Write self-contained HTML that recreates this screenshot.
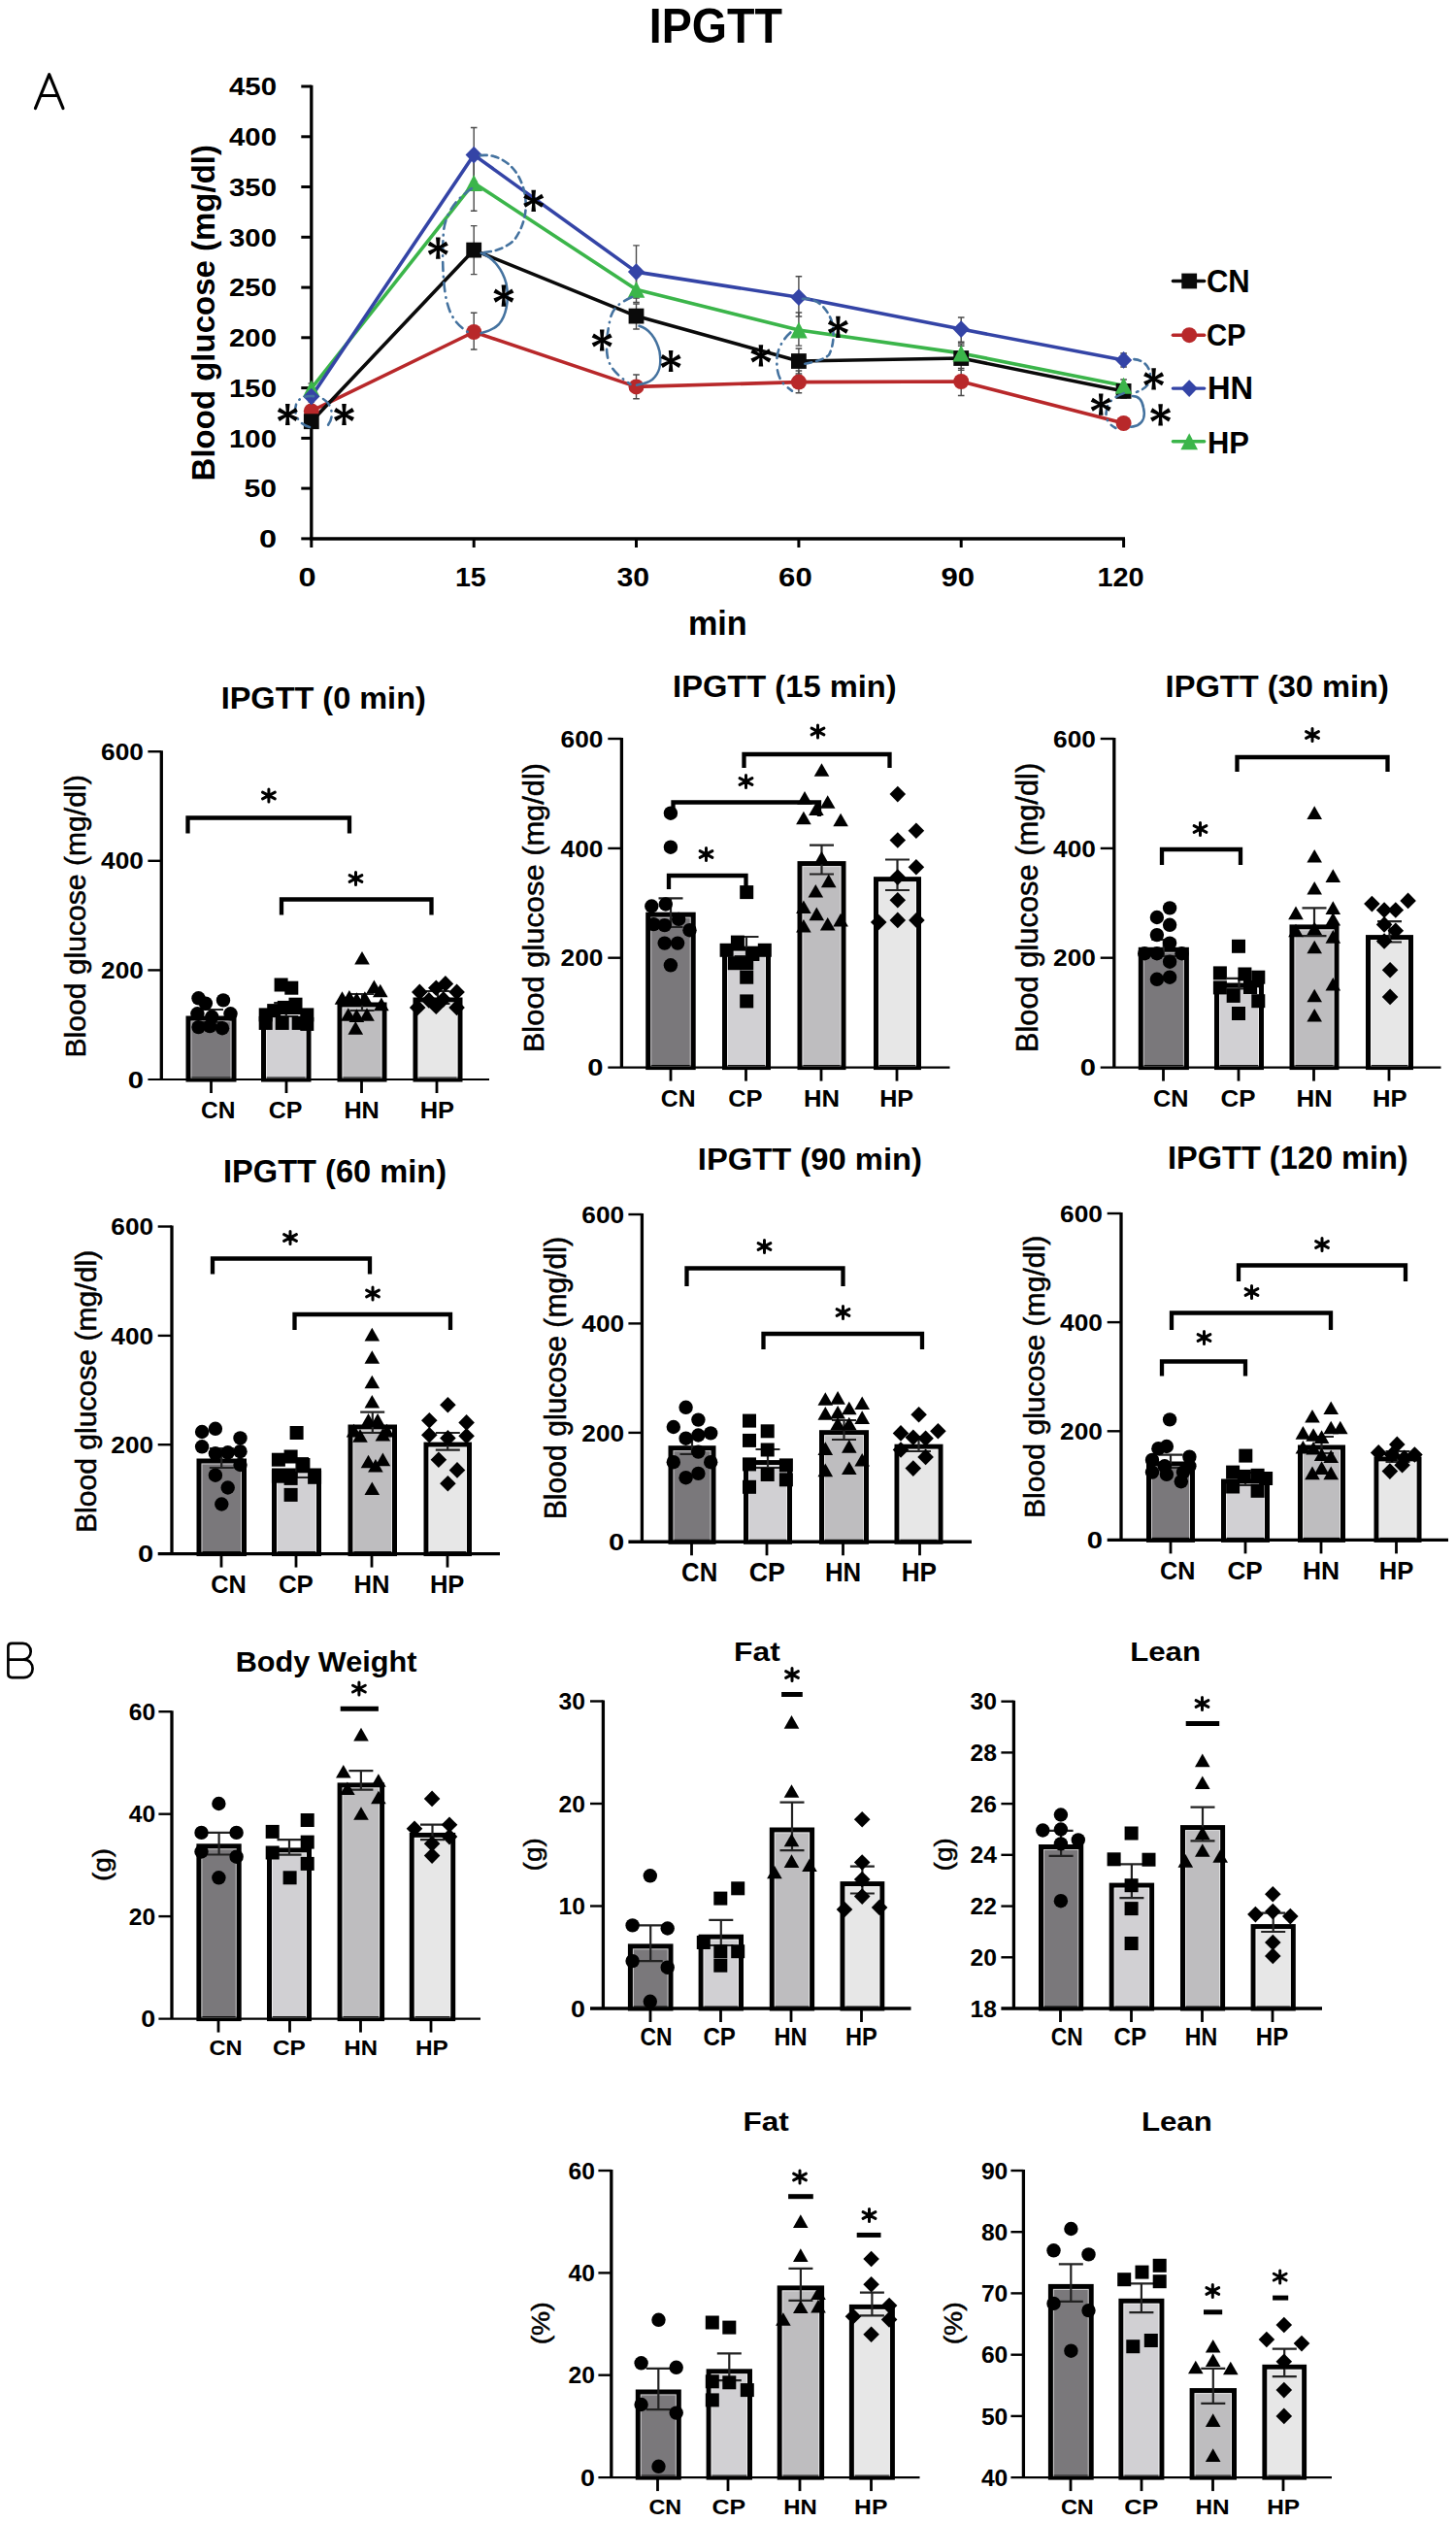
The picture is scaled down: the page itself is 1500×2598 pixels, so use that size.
<!DOCTYPE html>
<html><head><meta charset="utf-8"><title>IPGTT</title>
<style>html,body{margin:0;padding:0;background:#fff;}svg{display:block;}text{font-family:"Liberation Sans",sans-serif;}</style>
</head><body>
<svg width="1500" height="2598" viewBox="0 0 1500 2598">
<rect width="1500" height="2598" fill="#fff"/>
<text x="668.8" y="44.2" font-size="49.86" font-weight="bold" textLength="137.2" lengthAdjust="spacingAndGlyphs" fill="#000" >IPGTT</text>
<path d="M36.4 111.6L50.7 76.6L65.0 111.6M42.4 98.5H58.8" stroke="#000" stroke-width="3.1" fill="none" stroke-linejoin="round" stroke-linecap="round"/>
<path d="M320.8 87.8V555" stroke="#000" stroke-width="3.3" fill="none"/>
<path d="M319.2 555H1159" stroke="#000" stroke-width="3.3" fill="none"/>
<path d="M310.3 554.9H320.8" stroke="#000" stroke-width="3" fill="none"/>
<text x="266.9" y="564.2" font-size="26.26" font-weight="bold" textLength="18.1" lengthAdjust="spacingAndGlyphs" fill="#000" >0</text>
<path d="M310.3 503.1H320.8" stroke="#000" stroke-width="3" fill="none"/>
<text x="251.5" y="512.4" font-size="26.26" font-weight="bold" textLength="33.5" lengthAdjust="spacingAndGlyphs" fill="#000" >50</text>
<path d="M310.3 451.4H320.8" stroke="#000" stroke-width="3" fill="none"/>
<text x="236.0" y="460.7" font-size="26.26" font-weight="bold" textLength="49.0" lengthAdjust="spacingAndGlyphs" fill="#000" >100</text>
<path d="M310.3 399.6H320.8" stroke="#000" stroke-width="3" fill="none"/>
<text x="236.0" y="408.9" font-size="26.26" font-weight="bold" textLength="49.0" lengthAdjust="spacingAndGlyphs" fill="#000" >150</text>
<path d="M310.3 347.8H320.8" stroke="#000" stroke-width="3" fill="none"/>
<text x="236.0" y="357.1" font-size="26.26" font-weight="bold" textLength="49.0" lengthAdjust="spacingAndGlyphs" fill="#000" >200</text>
<path d="M310.3 296.1H320.8" stroke="#000" stroke-width="3" fill="none"/>
<text x="236.0" y="305.4" font-size="26.26" font-weight="bold" textLength="49.0" lengthAdjust="spacingAndGlyphs" fill="#000" >250</text>
<path d="M310.3 244.3H320.8" stroke="#000" stroke-width="3" fill="none"/>
<text x="236.0" y="253.6" font-size="26.26" font-weight="bold" textLength="49.0" lengthAdjust="spacingAndGlyphs" fill="#000" >300</text>
<path d="M310.3 192.5H320.8" stroke="#000" stroke-width="3" fill="none"/>
<text x="236.0" y="201.8" font-size="26.26" font-weight="bold" textLength="49.0" lengthAdjust="spacingAndGlyphs" fill="#000" >350</text>
<path d="M310.3 140.8H320.8" stroke="#000" stroke-width="3" fill="none"/>
<text x="236.0" y="150.1" font-size="26.26" font-weight="bold" textLength="49.0" lengthAdjust="spacingAndGlyphs" fill="#000" >400</text>
<path d="M310.3 89.0H320.8" stroke="#000" stroke-width="3" fill="none"/>
<text x="236.0" y="98.3" font-size="26.26" font-weight="bold" textLength="49.0" lengthAdjust="spacingAndGlyphs" fill="#000" >450</text>
<path d="M320.8 555V564" stroke="#000" stroke-width="3" fill="none"/>
<path d="M488.2 555V564" stroke="#000" stroke-width="3" fill="none"/>
<path d="M655.5 555V564" stroke="#000" stroke-width="3" fill="none"/>
<path d="M822.9 555V564" stroke="#000" stroke-width="3" fill="none"/>
<path d="M990.2 555V564" stroke="#000" stroke-width="3" fill="none"/>
<path d="M1157.6 555V564" stroke="#000" stroke-width="3" fill="none"/>
<text x="307.5" y="604.2" font-size="27.37" font-weight="bold" textLength="18.1" lengthAdjust="spacingAndGlyphs" fill="#000" >0</text>
<text x="468.9" y="604.2" font-size="27.37" font-weight="bold" textLength="31.9" lengthAdjust="spacingAndGlyphs" fill="#000" >15</text>
<text x="635.4" y="604.2" font-size="27.37" font-weight="bold" textLength="33.6" lengthAdjust="spacingAndGlyphs" fill="#000" >30</text>
<text x="802.1" y="604.2" font-size="27.37" font-weight="bold" textLength="34.6" lengthAdjust="spacingAndGlyphs" fill="#000" >60</text>
<text x="969.5" y="604.2" font-size="27.37" font-weight="bold" textLength="34.6" lengthAdjust="spacingAndGlyphs" fill="#000" >90</text>
<text x="1130.4" y="604.2" font-size="27.37" font-weight="bold" textLength="48.3" lengthAdjust="spacingAndGlyphs" fill="#000" >120</text>
<text x="708.9" y="653.6" font-size="35.45" font-weight="bold" textLength="60.8" lengthAdjust="spacingAndGlyphs" fill="#000" >min</text>
<text transform="translate(221.0,495.4) rotate(-90)" x="0" y="0" font-size="32.40" font-weight="bold" textLength="346.4" lengthAdjust="spacingAndGlyphs">Blood glucose (mg/dl)</text>
<path d="M320.8 403.0V414.0M317.5 403.0H324.1M317.5 414.0H324.1" stroke="#4a4a4a" stroke-width="1.4" fill="none"/>
<path d="M488.2 131.5V187.0M484.9 131.5H491.5M484.9 187.0H491.5" stroke="#4a4a4a" stroke-width="1.4" fill="none"/>
<path d="M655.5 252.9V307.0M652.2 252.9H658.8M652.2 307.0H658.8" stroke="#4a4a4a" stroke-width="1.4" fill="none"/>
<path d="M822.9 284.8V326.0M819.6 284.8H826.2M819.6 326.0H826.2" stroke="#4a4a4a" stroke-width="1.4" fill="none"/>
<path d="M990.2 327.0V352.3M986.9 327.0H993.5M986.9 352.3H993.5" stroke="#4a4a4a" stroke-width="1.4" fill="none"/>
<path d="M1157.6 364.0V378.0M1154.3 364.0H1160.9M1154.3 378.0H1160.9" stroke="#4a4a4a" stroke-width="1.4" fill="none"/>
<path d="M320.8 395.0V405.0M317.5 395.0H324.1M317.5 405.0H324.1" stroke="#4a4a4a" stroke-width="1.4" fill="none"/>
<path d="M488.2 162.0V217.3M484.9 162.0H491.5M484.9 217.3H491.5" stroke="#4a4a4a" stroke-width="1.4" fill="none"/>
<path d="M655.5 282.0V311.4M652.2 282.0H658.8M652.2 311.4H658.8" stroke="#4a4a4a" stroke-width="1.4" fill="none"/>
<path d="M822.9 322.0V356.1M819.6 322.0H826.2M819.6 356.1H826.2" stroke="#4a4a4a" stroke-width="1.4" fill="none"/>
<path d="M990.2 354.0V373.0M986.9 354.0H993.5M986.9 373.0H993.5" stroke="#4a4a4a" stroke-width="1.4" fill="none"/>
<path d="M1157.6 391.0V404.0M1154.3 391.0H1160.9M1154.3 404.0H1160.9" stroke="#4a4a4a" stroke-width="1.4" fill="none"/>
<path d="M320.8 428.0V440.0M317.5 428.0H324.1M317.5 440.0H324.1" stroke="#4a4a4a" stroke-width="1.4" fill="none"/>
<path d="M488.2 232.6V282.6M484.9 232.6H491.5M484.9 282.6H491.5" stroke="#4a4a4a" stroke-width="1.4" fill="none"/>
<path d="M655.5 313.0V339.0M652.2 313.0H658.8M652.2 339.0H658.8" stroke="#4a4a4a" stroke-width="1.4" fill="none"/>
<path d="M822.9 359.0V385.0M819.6 359.0H826.2M819.6 385.0H826.2" stroke="#4a4a4a" stroke-width="1.4" fill="none"/>
<path d="M990.2 356.2V381.4M986.9 356.2H993.5M986.9 381.4H993.5" stroke="#4a4a4a" stroke-width="1.4" fill="none"/>
<path d="M1157.6 396.0V410.0M1154.3 396.0H1160.9M1154.3 410.0H1160.9" stroke="#4a4a4a" stroke-width="1.4" fill="none"/>
<path d="M320.8 418.0V428.0M317.5 418.0H324.1M317.5 428.0H324.1" stroke="#4a4a4a" stroke-width="1.4" fill="none"/>
<path d="M488.2 322.2V360.0M484.9 322.2H491.5M484.9 360.0H491.5" stroke="#4a4a4a" stroke-width="1.4" fill="none"/>
<path d="M655.5 386.0V410.7M652.2 386.0H658.8M652.2 410.7H658.8" stroke="#4a4a4a" stroke-width="1.4" fill="none"/>
<path d="M822.9 382.0V404.8M819.6 382.0H826.2M819.6 404.8H826.2" stroke="#4a4a4a" stroke-width="1.4" fill="none"/>
<path d="M990.2 379.5V407.5M986.9 379.5H993.5M986.9 407.5H993.5" stroke="#4a4a4a" stroke-width="1.4" fill="none"/>
<path d="M1157.6 431.0V441.0M1154.3 431.0H1160.9M1154.3 441.0H1160.9" stroke="#4a4a4a" stroke-width="1.4" fill="none"/>
<polyline points="320.8,423.4 488.2,342.0 655.5,398.4 822.9,393.6 990.2,393.0 1157.6,436.0" stroke="#b8282a" stroke-width="3.6" fill="none" stroke-linejoin="round"/>
<polyline points="320.8,434.2 488.2,257.6 655.5,325.6 822.9,372.0 990.2,369.0 1157.6,402.9" stroke="#0a0a0a" stroke-width="3.6" fill="none" stroke-linejoin="round"/>
<polyline points="320.8,400.2 488.2,188.4 655.5,298.3 822.9,340.0 990.2,363.9 1157.6,397.3" stroke="#3bb54a" stroke-width="3.6" fill="none" stroke-linejoin="round"/>
<polyline points="320.8,408.5 488.2,159.6 655.5,280.1 822.9,306.3 990.2,339.1 1157.6,370.9" stroke="#3444a6" stroke-width="3.6" fill="none" stroke-linejoin="round"/>
<circle cx="320.8" cy="423.4" r="8" fill="#b8282a"/>
<circle cx="488.2" cy="342.0" r="8" fill="#b8282a"/>
<circle cx="655.5" cy="398.4" r="8" fill="#b8282a"/>
<circle cx="822.9" cy="393.6" r="8" fill="#b8282a"/>
<circle cx="990.2" cy="393.0" r="8" fill="#b8282a"/>
<circle cx="1157.6" cy="436.0" r="8" fill="#b8282a"/>
<rect x="312.9" y="426.3" width="15.8" height="15.8" fill="#0a0a0a"/>
<rect x="480.3" y="249.7" width="15.8" height="15.8" fill="#0a0a0a"/>
<rect x="647.6" y="317.7" width="15.8" height="15.8" fill="#0a0a0a"/>
<rect x="815.0" y="364.1" width="15.8" height="15.8" fill="#0a0a0a"/>
<rect x="982.3" y="361.1" width="15.8" height="15.8" fill="#0a0a0a"/>
<rect x="1149.7" y="395.0" width="15.8" height="15.8" fill="#0a0a0a"/>
<path d="M320.8 391.7L329.6 408.7L312.0 408.7Z" fill="#3bb54a"/>
<path d="M488.2 179.9L497.0 196.9L479.4 196.9Z" fill="#3bb54a"/>
<path d="M655.5 289.8L664.3 306.8L646.7 306.8Z" fill="#3bb54a"/>
<path d="M822.9 331.5L831.7 348.5L814.1 348.5Z" fill="#3bb54a"/>
<path d="M990.2 355.4L999.0 372.4L981.4 372.4Z" fill="#3bb54a"/>
<path d="M1157.6 388.8L1166.4 405.8L1148.8 405.8Z" fill="#3bb54a"/>
<path d="M320.8 399.7L329.4 408.5L320.8 417.3L312.2 408.5Z" fill="#3444a6"/>
<path d="M488.2 150.8L496.8 159.6L488.2 168.4L479.6 159.6Z" fill="#3444a6"/>
<path d="M655.5 271.3L664.1 280.1L655.5 288.9L646.9 280.1Z" fill="#3444a6"/>
<path d="M822.9 297.5L831.5 306.3L822.9 315.1L814.3 306.3Z" fill="#3444a6"/>
<path d="M990.2 330.3L998.8 339.1L990.2 347.9L981.6 339.1Z" fill="#3444a6"/>
<path d="M1157.6 362.1L1166.2 370.9L1157.6 379.7L1149.0 370.9Z" fill="#3444a6"/>
<path d="M333 411 C345 418 344 436 334 441 M319 440 C305 437 300 420 308 412 C313 408 320 407 328 409" stroke="#44729f" stroke-width="2.6" fill="none" stroke-linecap="round" stroke-dasharray="9 6 0.5 6"/>
<path d="M297.60 427.00L298.60 415.88L294.00 415.88L295.00 427.00ZM296.91 425.85L287.95 419.95L285.79 424.02L295.69 428.15ZM295.69 425.85L285.79 429.98L287.95 434.05L296.91 428.15ZM295.00 427.00L294.00 438.12L298.60 438.12L297.60 427.00ZM295.69 428.15L304.65 434.05L306.81 429.98L296.91 425.85ZM296.91 428.15L306.81 424.02L304.65 419.95L295.69 425.85Z" fill="#000"/>
<circle cx="296.3" cy="427.0" r="2.6" fill="#000"/>
<path d="M355.80 427.00L356.80 415.88L352.20 415.88L353.20 427.00ZM355.11 425.85L346.15 419.95L343.99 424.02L353.89 428.15ZM353.89 425.85L343.99 429.98L346.15 434.05L355.11 428.15ZM353.20 427.00L352.20 438.12L356.80 438.12L355.80 427.00ZM353.89 428.15L362.85 434.05L365.01 429.98L355.11 425.85ZM355.11 428.15L365.01 424.02L362.85 419.95L353.89 425.85Z" fill="#000"/>
<circle cx="354.5" cy="427.0" r="2.6" fill="#000"/>
<path d="M494.7 160.1 C512 158 530 168 538 190 C545 210 542 230 530 247 C520 257 505 260 496.9 260.1" stroke="#44729f" stroke-width="2.6" fill="none" stroke-linecap="round" stroke-dasharray="7 5"/>
<path d="M485.9 194.2 C470 205 458 220 456.8 241 C455 270 457 300 461 313 C465 328 472 336 483.7 343.1" stroke="#44729f" stroke-width="2.6" fill="none" stroke-linecap="round" stroke-dasharray="9 6 0.5 6"/>
<path d="M495.8 260.7 C508 265 518 278 521.5 292 C525 310 521 326 514 334 C508 340 500 342 495.8 343.1" stroke="#44729f" stroke-width="2.6" fill="none" stroke-linecap="round" />
<path d="M551.00 206.80L552.00 195.68L547.40 195.68L548.40 206.80ZM550.31 205.65L541.35 199.75L539.19 203.82L549.09 207.95ZM549.09 205.65L539.19 209.78L541.35 213.85L550.31 207.95ZM548.40 206.80L547.40 217.92L552.00 217.92L551.00 206.80ZM549.09 207.95L558.05 213.85L560.21 209.78L550.31 205.65ZM550.31 207.95L560.21 203.82L558.05 199.75L549.09 205.65Z" fill="#000"/>
<circle cx="549.7" cy="206.8" r="2.6" fill="#000"/>
<path d="M452.60 255.70L453.60 244.58L449.00 244.58L450.00 255.70ZM451.91 254.55L442.95 248.65L440.79 252.72L450.69 256.85ZM450.69 254.55L440.79 258.68L442.95 262.75L451.91 256.85ZM450.00 255.70L449.00 266.82L453.60 266.82L452.60 255.70ZM450.69 256.85L459.65 262.75L461.81 258.68L451.91 254.55ZM451.91 256.85L461.81 252.72L459.65 248.65L450.69 254.55Z" fill="#000"/>
<circle cx="451.3" cy="255.7" r="2.6" fill="#000"/>
<path d="M520.20 304.60L521.20 293.48L516.60 293.48L517.60 304.60ZM519.51 303.45L510.55 297.55L508.39 301.62L518.29 305.75ZM518.29 303.45L508.39 307.58L510.55 311.65L519.51 305.75ZM517.60 304.60L516.60 315.72L521.20 315.72L520.20 304.60ZM518.29 305.75L527.25 311.65L529.41 307.58L519.51 303.45ZM519.51 305.75L529.41 301.62L527.25 297.55L518.29 303.45Z" fill="#000"/>
<circle cx="518.9" cy="304.6" r="2.6" fill="#000"/>
<path d="M651.1 306 C640 311 632 316 629 327 C626 340 624 355 625.5 365 C627 378 635 386 649.5 395.9" stroke="#44729f" stroke-width="2.6" fill="none" stroke-linecap="round" stroke-dasharray="9 6 0.5 6"/>
<path d="M658.5 335.7 C668 338 676 348 679.5 362 C682 377 679 385 672 391 C667 395 660 396 656 396.7" stroke="#44729f" stroke-width="2.6" fill="none" stroke-linecap="round" />
<path d="M621.50 350.50L622.50 339.38L617.90 339.38L618.90 350.50ZM620.81 349.35L611.85 343.45L609.69 347.52L619.59 351.65ZM619.59 349.35L609.69 353.48L611.85 357.55L620.81 351.65ZM618.90 350.50L617.90 361.62L622.50 361.62L621.50 350.50ZM619.59 351.65L628.55 357.55L630.71 353.48L620.81 349.35ZM620.81 351.65L630.71 347.52L628.55 343.45L619.59 349.35Z" fill="#000"/>
<circle cx="620.2" cy="350.5" r="2.6" fill="#000"/>
<path d="M692.40 372.00L693.40 360.88L688.80 360.88L689.80 372.00ZM691.71 370.85L682.75 364.95L680.59 369.02L690.49 373.15ZM690.49 370.85L680.59 374.98L682.75 379.05L691.71 373.15ZM689.80 372.00L688.80 383.12L693.40 383.12L692.40 372.00ZM690.49 373.15L699.45 379.05L701.61 374.98L691.71 370.85ZM691.71 373.15L701.61 369.02L699.45 364.95L690.49 370.85Z" fill="#000"/>
<circle cx="691.1" cy="372.0" r="2.6" fill="#000"/>
<path d="M826.8 307.9 C842 306 852 318 856.5 330 C860 342 859 356 854 365.6 C848 371 838 373 829.2 374.7" stroke="#44729f" stroke-width="2.6" fill="none" stroke-linecap="round" stroke-dasharray="7 5"/>
<path d="M814.4 342.5 C806 350 801 360 800.4 369 C800 380 801 389 808.6 396.9 C811 399 814 401 816 402.7" stroke="#44729f" stroke-width="2.6" fill="none" stroke-linecap="round" stroke-dasharray="9 6 0.5 6"/>
<path d="M785.20 366.40L786.20 355.28L781.60 355.28L782.60 366.40ZM784.51 365.25L775.55 359.35L773.39 363.42L783.29 367.55ZM783.29 365.25L773.39 369.38L775.55 373.45L784.51 367.55ZM782.60 366.40L781.60 377.52L786.20 377.52L785.20 366.40ZM783.29 367.55L792.25 373.45L794.41 369.38L784.51 365.25ZM784.51 367.55L794.41 363.42L792.25 359.35L783.29 365.25Z" fill="#000"/>
<circle cx="783.9" cy="366.4" r="2.6" fill="#000"/>
<path d="M864.70 336.80L865.70 325.68L861.10 325.68L862.10 336.80ZM864.01 335.65L855.05 329.75L852.89 333.82L862.79 337.95ZM862.79 335.65L852.89 339.78L855.05 343.85L864.01 337.95ZM862.10 336.80L861.10 347.92L865.70 347.92L864.70 336.80ZM862.79 337.95L871.75 343.85L873.91 339.78L864.01 335.65ZM864.01 337.95L873.91 333.82L871.75 329.75L862.79 335.65Z" fill="#000"/>
<circle cx="863.4" cy="336.8" r="2.6" fill="#000"/>
<path d="M1168.4 370.1 C1180 371 1186 380 1185 390 C1184 398 1176 402 1170.9 403.9" stroke="#44729f" stroke-width="2.6" fill="none" stroke-linecap="round" stroke-dasharray="7 5"/>
<path d="M1157.7 405.1 C1145 410 1140 416 1139.6 425.7 C1139 432 1143 438 1149.5 441" stroke="#44729f" stroke-width="2.6" fill="none" stroke-linecap="round" stroke-dasharray="9 6 0.5 6"/>
<path d="M1166.8 408 C1174 408 1177 414 1178 420 C1180 428 1178 435 1172 438 C1169 439 1167 439.7 1165.1 439.7" stroke="#44729f" stroke-width="2.6" fill="none" stroke-linecap="round" />
<path d="M1189.90 390.30L1190.90 379.18L1186.30 379.18L1187.30 390.30ZM1189.21 389.15L1180.25 383.25L1178.09 387.32L1187.99 391.45ZM1187.99 389.15L1178.09 393.28L1180.25 397.35L1189.21 391.45ZM1187.30 390.30L1186.30 401.42L1190.90 401.42L1189.90 390.30ZM1187.99 391.45L1196.95 397.35L1199.11 393.28L1189.21 389.15ZM1189.21 391.45L1199.11 387.32L1196.95 383.25L1187.99 389.15Z" fill="#000"/>
<circle cx="1188.6" cy="390.3" r="2.6" fill="#000"/>
<path d="M1135.50 416.70L1136.50 405.58L1131.90 405.58L1132.90 416.70ZM1134.81 415.55L1125.85 409.65L1123.69 413.72L1133.59 417.85ZM1133.59 415.55L1123.69 419.68L1125.85 423.75L1134.81 417.85ZM1132.90 416.70L1131.90 427.82L1136.50 427.82L1135.50 416.70ZM1133.59 417.85L1142.55 423.75L1144.71 419.68L1134.81 415.55ZM1134.81 417.85L1144.71 413.72L1142.55 409.65L1133.59 415.55Z" fill="#000"/>
<circle cx="1134.2" cy="416.7" r="2.6" fill="#000"/>
<path d="M1196.90 427.40L1197.90 416.28L1193.30 416.28L1194.30 427.40ZM1196.21 426.25L1187.25 420.35L1185.09 424.42L1194.99 428.55ZM1194.99 426.25L1185.09 430.38L1187.25 434.45L1196.21 428.55ZM1194.30 427.40L1193.30 438.52L1197.90 438.52L1196.90 427.40ZM1194.99 428.55L1203.95 434.45L1206.11 430.38L1196.21 426.25ZM1196.21 428.55L1206.11 424.42L1203.95 420.35L1194.99 426.25Z" fill="#000"/>
<circle cx="1195.6" cy="427.4" r="2.6" fill="#000"/>
<path d="M1208.4 289.5H1240.7" stroke="#0a0a0a" stroke-width="3.4" fill="none" stroke-linecap="round"/>
<rect x="1217.3" y="281.6" width="15.8" height="15.8" fill="#0a0a0a"/>
<path d="M1208.4 345.2H1240.7" stroke="#b8282a" stroke-width="3.4" fill="none" stroke-linecap="round"/>
<circle cx="1225.2" cy="345.2" r="8" fill="#b8282a"/>
<path d="M1208.4 400.1H1240.7" stroke="#3444a6" stroke-width="3.4" fill="none" stroke-linecap="round"/>
<path d="M1225.2 391.3L1233.8 400.1L1225.2 408.9L1216.6 400.1Z" fill="#3444a6"/>
<path d="M1208.4 454.8H1240.7" stroke="#3bb54a" stroke-width="3.4" fill="none" stroke-linecap="round"/>
<path d="M1225.2 446.3L1234.0 463.3L1216.4 463.3Z" fill="#3bb54a"/>
<text x="1242.9" y="300.5" font-size="32.54" font-weight="bold" textLength="44.8" lengthAdjust="spacingAndGlyphs" fill="#000" >CN</text>
<text x="1242.9" y="355.8" font-size="32.12" font-weight="bold" textLength="40.7" lengthAdjust="spacingAndGlyphs" fill="#000" >CP</text>
<text x="1243.9" y="411.0" font-size="32.54" font-weight="bold" textLength="47.2" lengthAdjust="spacingAndGlyphs" fill="#000" >HN</text>
<text x="1243.9" y="466.5" font-size="32.26" font-weight="bold" textLength="43.0" lengthAdjust="spacingAndGlyphs" fill="#000" >HP</text>
<path d="M8.4 1709.6V1696.6Q8.4 1692.9 12.2 1692.9H23.6C28.6 1692.9 31.7 1696.6 31.7 1701.2C31.7 1705.9 28.4 1709.6 23.4 1709.6H8.4M23.4 1709.6H24.6C30.2 1709.6 33.6 1713.7 33.6 1718.9C33.6 1724.1 29.8 1728.1 24.4 1728.1H12.2Q8.4 1728.1 8.4 1724.3V1709.6" stroke="#000" stroke-width="2.7" fill="none" stroke-linejoin="round"/>
<rect x="194.0" y="1049.0" width="47.0" height="63.0" fill="#7a787b" stroke="#000" stroke-width="5"/>
<rect x="197.0" y="1052.0" width="41.0" height="59.0" fill="none" stroke="#fff" stroke-opacity="0.6" stroke-width="1"/>
<rect x="271.5" y="1042.5" width="46.5" height="69.5" fill="#d1d0d3" stroke="#000" stroke-width="5"/>
<rect x="274.5" y="1045.5" width="40.5" height="65.5" fill="none" stroke="#fff" stroke-opacity="0.6" stroke-width="1"/>
<rect x="350.0" y="1035.0" width="46.0" height="77.0" fill="#bebdbf" stroke="#000" stroke-width="5"/>
<rect x="353.0" y="1038.0" width="40.0" height="73.0" fill="none" stroke="#fff" stroke-opacity="0.6" stroke-width="1"/>
<rect x="428.0" y="1030.0" width="46.0" height="82.0" fill="#e7e7e7" stroke="#000" stroke-width="5"/>
<rect x="431.0" y="1033.0" width="40.0" height="78.0" fill="none" stroke="#fff" stroke-opacity="0.6" stroke-width="1"/>
<path d="M217.5 1040.0V1053.0M205.0 1040.0H230.0M205.0 1053.0H230.0" stroke="#222" stroke-width="2.2" fill="none"/>
<path d="M294.8 1033.0V1047.0M282.2 1033.0H307.2M282.2 1047.0H307.2" stroke="#222" stroke-width="2.2" fill="none"/>
<path d="M373.0 1024.0V1041.0M360.5 1024.0H385.5M360.5 1041.0H385.5" stroke="#222" stroke-width="2.2" fill="none"/>
<path d="M451.0 1021.0V1034.0M438.5 1021.0H463.5M438.5 1034.0H463.5" stroke="#222" stroke-width="2.2" fill="none"/>
<circle cx="204.5" cy="1028.3" r="7.2" fill="#000"/>
<circle cx="211.9" cy="1033.6" r="7.2" fill="#000"/>
<circle cx="230.0" cy="1030.4" r="7.2" fill="#000"/>
<circle cx="203.4" cy="1044.3" r="7.2" fill="#000"/>
<circle cx="237.5" cy="1044.3" r="7.2" fill="#000"/>
<circle cx="204.5" cy="1058.1" r="7.2" fill="#000"/>
<circle cx="216.2" cy="1057.1" r="7.2" fill="#000"/>
<circle cx="229.0" cy="1059.2" r="7.2" fill="#000"/>
<circle cx="218.3" cy="1047.5" r="7.2" fill="#000"/>
<rect x="282.6" y="1007.5" width="14.0" height="14.0" fill="#000"/>
<rect x="293.3" y="1010.7" width="14.0" height="14.0" fill="#000"/>
<rect x="297.5" y="1027.7" width="14.0" height="14.0" fill="#000"/>
<rect x="285.8" y="1030.9" width="14.0" height="14.0" fill="#000"/>
<rect x="275.2" y="1034.1" width="14.0" height="14.0" fill="#000"/>
<rect x="266.7" y="1038.4" width="14.0" height="14.0" fill="#000"/>
<rect x="309.3" y="1038.4" width="14.0" height="14.0" fill="#000"/>
<rect x="266.7" y="1046.9" width="14.0" height="14.0" fill="#000"/>
<rect x="283.7" y="1046.9" width="14.0" height="14.0" fill="#000"/>
<rect x="300.7" y="1046.9" width="14.0" height="14.0" fill="#000"/>
<rect x="309.3" y="1047.9" width="14.0" height="14.0" fill="#000"/>
<path d="M373.0 980.0L380.8 993.6L365.2 993.6Z" fill="#000"/>
<path d="M385.4 1009.5L393.2 1023.1L377.6 1023.1Z" fill="#000"/>
<path d="M391.8 1013.7L399.6 1027.3L384.0 1027.3Z" fill="#000"/>
<path d="M352.5 1021.2L360.3 1034.8L344.7 1034.8Z" fill="#000"/>
<path d="M359.9 1020.1L367.7 1033.7L352.1 1033.7Z" fill="#000"/>
<path d="M367.4 1022.2L375.2 1035.8L359.6 1035.8Z" fill="#000"/>
<path d="M375.9 1021.2L383.7 1034.8L368.1 1034.8Z" fill="#000"/>
<path d="M358.8 1038.2L366.6 1051.8L351.0 1051.8Z" fill="#000"/>
<path d="M367.4 1039.3L375.2 1052.9L359.6 1052.9Z" fill="#000"/>
<path d="M378.0 1038.2L385.8 1051.8L370.2 1051.8Z" fill="#000"/>
<path d="M366.3 1052.1L374.1 1065.7L358.5 1065.7Z" fill="#000"/>
<path d="M392.9 1027.6L400.7 1041.2L385.1 1041.2Z" fill="#000"/>
<path d="M432.3 1013.6L440.6 1021.9L432.3 1030.2L424.0 1021.9Z" fill="#000"/>
<path d="M449.3 1009.4L457.6 1017.7L449.3 1026.0L441.0 1017.7Z" fill="#000"/>
<path d="M458.9 1005.1L467.2 1013.4L458.9 1021.7L450.6 1013.4Z" fill="#000"/>
<path d="M470.6 1013.6L478.9 1021.9L470.6 1030.2L462.3 1021.9Z" fill="#000"/>
<path d="M441.9 1022.1L450.2 1030.4L441.9 1038.7L433.6 1030.4Z" fill="#000"/>
<path d="M456.8 1021.1L465.1 1029.4L456.8 1037.7L448.5 1029.4Z" fill="#000"/>
<path d="M430.2 1029.6L438.5 1037.9L430.2 1046.2L421.9 1037.9Z" fill="#000"/>
<path d="M470.6 1029.6L478.9 1037.9L470.6 1046.2L462.3 1037.9Z" fill="#000"/>
<path d="M449.3 1028.5L457.6 1036.8L449.3 1045.1L441.0 1036.8Z" fill="#000"/>
<path d="M166.3 773.2V1112.0" stroke="#000" stroke-width="3.3" fill="none"/>
<path d="M152.4 1112.0H504.0" stroke="#000" stroke-width="2.2" fill="none"/>
<path d="M152.4 999.4H166.3" stroke="#000" stroke-width="2.4" fill="none"/>
<path d="M152.4 886.8H166.3" stroke="#000" stroke-width="2.4" fill="none"/>
<path d="M152.4 774.2H166.3" stroke="#000" stroke-width="2.4" fill="none"/>
<path d="M217.5 1112.0V1126.0" stroke="#000" stroke-width="2.8" fill="none"/>
<path d="M295.0 1112.0V1126.0" stroke="#000" stroke-width="2.8" fill="none"/>
<path d="M372.5 1112.0V1126.0" stroke="#000" stroke-width="2.8" fill="none"/>
<path d="M450.0 1112.0V1126.0" stroke="#000" stroke-width="2.8" fill="none"/>
<text x="131.7" y="1120.6" font-size="24.02" font-weight="bold" textLength="16.2" lengthAdjust="spacingAndGlyphs" fill="#000" >0</text>
<text x="104.1" y="1008.0" font-size="24.02" font-weight="bold" textLength="43.8" lengthAdjust="spacingAndGlyphs" fill="#000" >200</text>
<text x="104.1" y="895.4" font-size="24.02" font-weight="bold" textLength="43.8" lengthAdjust="spacingAndGlyphs" fill="#000" >400</text>
<text x="104.1" y="782.8" font-size="24.02" font-weight="bold" textLength="43.8" lengthAdjust="spacingAndGlyphs" fill="#000" >600</text>
<text x="207.0" y="1151.5" font-size="23.60" font-weight="bold" textLength="35.4" lengthAdjust="spacingAndGlyphs" fill="#000" >CN</text>
<text x="276.7" y="1151.5" font-size="23.60" font-weight="bold" textLength="34.7" lengthAdjust="spacingAndGlyphs" fill="#000" >CP</text>
<text x="354.4" y="1151.5" font-size="23.60" font-weight="bold" textLength="36.4" lengthAdjust="spacingAndGlyphs" fill="#000" >HN</text>
<text x="432.7" y="1151.5" font-size="23.60" font-weight="bold" textLength="35.3" lengthAdjust="spacingAndGlyphs" fill="#000" >HP</text>
<text x="227.7" y="730.1" font-size="30.87" font-weight="bold" textLength="211.1" lengthAdjust="spacingAndGlyphs" fill="#000" >IPGTT (0 min)</text>
<text transform="translate(87.7,1089.6) rotate(-90)" x="0" y="0" font-size="29.75" font-weight="normal" textLength="291.3" lengthAdjust="spacingAndGlyphs" stroke="#000" stroke-width="0.5">Blood glucose (mg/dl)</text>
<path d="M193.5 858.5V842.5H360.0V858.5" stroke="#000" stroke-width="4.3" fill="none" stroke-linejoin="miter"/>
<path d="M276.9 813.0V826.0M270.5 816.1L283.3 822.9M270.5 822.9L283.3 816.1" stroke="#000" stroke-width="3.0" stroke-linecap="round" fill="none"/>
<path d="M290.0 942.5V926.5H444.5V942.5" stroke="#000" stroke-width="4.3" fill="none" stroke-linejoin="miter"/>
<path d="M366.5 898.5V911.5M360.1 901.6L372.9 908.4M360.1 908.4L372.9 901.6" stroke="#000" stroke-width="3.0" stroke-linecap="round" fill="none"/>
<rect x="667.7" y="942.2" width="46.5" height="157.4" fill="#7a787b" stroke="#000" stroke-width="5"/>
<rect x="670.7" y="945.2" width="40.5" height="153.4" fill="none" stroke="#fff" stroke-opacity="0.6" stroke-width="1"/>
<rect x="746.5" y="977.2" width="45.0" height="122.4" fill="#d1d0d3" stroke="#000" stroke-width="5"/>
<rect x="749.5" y="980.2" width="39.0" height="118.4" fill="none" stroke="#fff" stroke-opacity="0.6" stroke-width="1"/>
<rect x="824.0" y="889.6" width="45.0" height="210.0" fill="#bebdbf" stroke="#000" stroke-width="5"/>
<rect x="827.0" y="892.6" width="39.0" height="206.0" fill="none" stroke="#fff" stroke-opacity="0.6" stroke-width="1"/>
<rect x="902.5" y="905.7" width="44.0" height="193.9" fill="#e7e7e7" stroke="#000" stroke-width="5"/>
<rect x="905.5" y="908.7" width="38.0" height="189.9" fill="none" stroke="#fff" stroke-opacity="0.6" stroke-width="1"/>
<path d="M691.0 925.3V955.0M678.5 925.3H703.5M678.5 955.0H703.5" stroke="#222" stroke-width="2.2" fill="none"/>
<path d="M769.0 965.0V985.0M756.5 965.0H781.5M756.5 985.0H781.5" stroke="#222" stroke-width="2.2" fill="none"/>
<path d="M846.5 870.7V900.5M834.0 870.7H859.0M834.0 900.5H859.0" stroke="#222" stroke-width="2.2" fill="none"/>
<path d="M924.5 885.5V917.0M912.0 885.5H937.0M912.0 917.0H937.0" stroke="#222" stroke-width="2.2" fill="none"/>
<circle cx="690.9" cy="837.7" r="7.2" fill="#000"/>
<circle cx="690.9" cy="872.7" r="7.2" fill="#000"/>
<circle cx="685.8" cy="931.5" r="7.2" fill="#000"/>
<circle cx="671.3" cy="933.5" r="7.2" fill="#000"/>
<circle cx="673.4" cy="952.1" r="7.2" fill="#000"/>
<circle cx="684.7" cy="953.1" r="7.2" fill="#000"/>
<circle cx="699.2" cy="946.9" r="7.2" fill="#000"/>
<circle cx="710.5" cy="958.2" r="7.2" fill="#000"/>
<circle cx="684.7" cy="971.6" r="7.2" fill="#000"/>
<circle cx="698.1" cy="971.6" r="7.2" fill="#000"/>
<circle cx="690.9" cy="994.3" r="7.2" fill="#000"/>
<rect x="762.2" y="912.1" width="14.0" height="14.0" fill="#000"/>
<rect x="752.9" y="963.6" width="14.0" height="14.0" fill="#000"/>
<rect x="741.6" y="971.8" width="14.0" height="14.0" fill="#000"/>
<rect x="780.8" y="971.8" width="14.0" height="14.0" fill="#000"/>
<rect x="768.4" y="976.0" width="14.0" height="14.0" fill="#000"/>
<rect x="749.8" y="985.2" width="14.0" height="14.0" fill="#000"/>
<rect x="762.2" y="985.2" width="14.0" height="14.0" fill="#000"/>
<rect x="762.2" y="999.7" width="14.0" height="14.0" fill="#000"/>
<rect x="762.2" y="1024.4" width="14.0" height="14.0" fill="#000"/>
<path d="M846.5 786.2L854.3 799.8L838.7 799.8Z" fill="#000"/>
<path d="M829.0 815.1L836.8 828.7L821.2 828.7Z" fill="#000"/>
<path d="M852.7 819.2L860.5 832.8L844.9 832.8Z" fill="#000"/>
<path d="M840.9 826.4L848.7 840.0L833.1 840.0Z" fill="#000"/>
<path d="M827.9 835.7L835.7 849.3L820.1 849.3Z" fill="#000"/>
<path d="M866.1 837.7L873.9 851.3L858.3 851.3Z" fill="#000"/>
<path d="M853.7 900.6L861.5 914.2L845.9 914.2Z" fill="#000"/>
<path d="M840.3 910.9L848.1 924.5L832.5 924.5Z" fill="#000"/>
<path d="M827.9 927.4L835.7 941.0L820.1 941.0Z" fill="#000"/>
<path d="M841.3 934.6L849.1 948.2L833.5 948.2Z" fill="#000"/>
<path d="M866.1 940.8L873.9 954.4L858.3 954.4Z" fill="#000"/>
<path d="M827.9 946.9L835.7 960.5L820.1 960.5Z" fill="#000"/>
<path d="M852.7 944.9L860.5 958.5L844.9 958.5Z" fill="#000"/>
<path d="M846.5 876.8L854.3 890.4L838.7 890.4Z" fill="#000"/>
<path d="M924.8 809.8L933.1 818.1L924.8 826.4L916.5 818.1Z" fill="#000"/>
<path d="M943.9 847.5L952.2 855.8L943.9 864.1L935.6 855.8Z" fill="#000"/>
<path d="M924.8 857.2L933.1 865.5L924.8 873.8L916.5 865.5Z" fill="#000"/>
<path d="M943.9 885.0L952.2 893.3L943.9 901.6L935.6 893.3Z" fill="#000"/>
<path d="M924.8 895.3L933.1 903.6L924.8 911.9L916.5 903.6Z" fill="#000"/>
<path d="M924.8 919.0L933.1 927.3L924.8 935.6L916.5 927.3Z" fill="#000"/>
<path d="M905.2 941.7L913.5 950.0L905.2 958.3L896.9 950.0Z" fill="#000"/>
<path d="M924.8 939.6L933.1 947.9L924.8 956.2L916.5 947.9Z" fill="#000"/>
<path d="M944.4 939.6L952.7 947.9L944.4 956.2L936.1 947.9Z" fill="#000"/>
<path d="M640.4 760.0V1099.6" stroke="#000" stroke-width="3.3" fill="none"/>
<path d="M626.3 1099.6H978.5" stroke="#000" stroke-width="2.2" fill="none"/>
<path d="M626.3 986.7H640.4" stroke="#000" stroke-width="2.4" fill="none"/>
<path d="M626.3 873.9H640.4" stroke="#000" stroke-width="2.4" fill="none"/>
<path d="M626.3 761.0H640.4" stroke="#000" stroke-width="2.4" fill="none"/>
<path d="M691.0 1099.6V1113.6" stroke="#000" stroke-width="2.8" fill="none"/>
<path d="M768.5 1099.6V1113.6" stroke="#000" stroke-width="2.8" fill="none"/>
<path d="M846.0 1099.6V1113.6" stroke="#000" stroke-width="2.8" fill="none"/>
<path d="M924.0 1099.6V1113.6" stroke="#000" stroke-width="2.8" fill="none"/>
<text x="605.2" y="1108.2" font-size="24.02" font-weight="bold" textLength="16.2" lengthAdjust="spacingAndGlyphs" fill="#000" >0</text>
<text x="577.6" y="995.3" font-size="24.02" font-weight="bold" textLength="43.8" lengthAdjust="spacingAndGlyphs" fill="#000" >200</text>
<text x="577.6" y="882.5" font-size="24.02" font-weight="bold" textLength="43.8" lengthAdjust="spacingAndGlyphs" fill="#000" >400</text>
<text x="577.6" y="769.6" font-size="24.02" font-weight="bold" textLength="43.8" lengthAdjust="spacingAndGlyphs" fill="#000" >600</text>
<text x="680.8" y="1139.9" font-size="23.88" font-weight="bold" textLength="35.7" lengthAdjust="spacingAndGlyphs" fill="#000" >CN</text>
<text x="750.2" y="1139.9" font-size="23.88" font-weight="bold" textLength="35.4" lengthAdjust="spacingAndGlyphs" fill="#000" >CP</text>
<text x="827.9" y="1139.9" font-size="23.88" font-weight="bold" textLength="37.0" lengthAdjust="spacingAndGlyphs" fill="#000" >HN</text>
<text x="906.2" y="1139.9" font-size="23.88" font-weight="bold" textLength="34.9" lengthAdjust="spacingAndGlyphs" fill="#000" >HP</text>
<text x="693.1" y="718.0" font-size="30.59" font-weight="bold" textLength="230.5" lengthAdjust="spacingAndGlyphs" fill="#000" >IPGTT (15 min)</text>
<text transform="translate(559.8,1084.2) rotate(-90)" x="0" y="0" font-size="30.17" font-weight="normal" textLength="298.3" lengthAdjust="spacingAndGlyphs" stroke="#000" stroke-width="0.5">Blood glucose (mg/dl)</text>
<path d="M689.0 916.0V902.0H768.5V916.0" stroke="#000" stroke-width="4.3" fill="none" stroke-linejoin="miter"/>
<path d="M727.5 873.5V886.5M721.1 876.6L733.9 883.4M721.1 883.4L733.9 876.6" stroke="#000" stroke-width="3.0" stroke-linecap="round" fill="none"/>
<path d="M693.5 841.0V826.5H844.0V841.0" stroke="#000" stroke-width="4.3" fill="none" stroke-linejoin="miter"/>
<path d="M768.5 798.5V811.5M762.1 801.6L774.9 808.4M762.1 808.4L774.9 801.6" stroke="#000" stroke-width="3.0" stroke-linecap="round" fill="none"/>
<path d="M766.5 791.0V777.0H916.5V791.0" stroke="#000" stroke-width="4.3" fill="none" stroke-linejoin="miter"/>
<path d="M842.5 747.0V760.0M836.1 750.1L848.9 756.9M836.1 756.9L848.9 750.1" stroke="#000" stroke-width="3.0" stroke-linecap="round" fill="none"/>
<rect x="1175.3" y="978.3" width="47.1" height="121.3" fill="#7a787b" stroke="#000" stroke-width="5"/>
<rect x="1178.3" y="981.3" width="41.1" height="117.3" fill="none" stroke="#fff" stroke-opacity="0.6" stroke-width="1"/>
<rect x="1253.5" y="1015.0" width="46.0" height="84.6" fill="#d1d0d3" stroke="#000" stroke-width="5"/>
<rect x="1256.5" y="1018.0" width="40.0" height="80.6" fill="none" stroke="#fff" stroke-opacity="0.6" stroke-width="1"/>
<rect x="1331.0" y="954.9" width="46.0" height="144.7" fill="#bebdbf" stroke="#000" stroke-width="5"/>
<rect x="1334.0" y="957.9" width="40.0" height="140.7" fill="none" stroke="#fff" stroke-opacity="0.6" stroke-width="1"/>
<rect x="1409.5" y="965.6" width="44.0" height="134.0" fill="#e7e7e7" stroke="#000" stroke-width="5"/>
<rect x="1412.5" y="968.6" width="38.0" height="130.0" fill="none" stroke="#fff" stroke-opacity="0.6" stroke-width="1"/>
<path d="M1198.8 968.0V985.0M1186.3 968.0H1211.3M1186.3 985.0H1211.3" stroke="#222" stroke-width="2.2" fill="none"/>
<path d="M1276.5 1007.8V1018.4M1264.0 1007.8H1289.0M1264.0 1018.4H1289.0" stroke="#222" stroke-width="2.2" fill="none"/>
<path d="M1354.0 935.4V964.1M1341.5 935.4H1366.5M1341.5 964.1H1366.5" stroke="#222" stroke-width="2.2" fill="none"/>
<path d="M1431.5 949.2V970.5M1419.0 949.2H1444.0M1419.0 970.5H1444.0" stroke="#222" stroke-width="2.2" fill="none"/>
<circle cx="1205.1" cy="935.4" r="7.2" fill="#000"/>
<circle cx="1191.9" cy="945.0" r="7.2" fill="#000"/>
<circle cx="1205.1" cy="952.8" r="7.2" fill="#000"/>
<circle cx="1191.9" cy="963.1" r="7.2" fill="#000"/>
<circle cx="1205.1" cy="971.6" r="7.2" fill="#000"/>
<circle cx="1179.2" cy="982.2" r="7.2" fill="#000"/>
<circle cx="1191.9" cy="982.2" r="7.2" fill="#000"/>
<circle cx="1217.5" cy="982.2" r="7.2" fill="#000"/>
<circle cx="1205.1" cy="990.7" r="7.2" fill="#000"/>
<circle cx="1191.9" cy="1008.8" r="7.2" fill="#000"/>
<circle cx="1205.1" cy="1006.7" r="7.2" fill="#000"/>
<rect x="1269.0" y="967.8" width="14.0" height="14.0" fill="#000"/>
<rect x="1249.9" y="995.4" width="14.0" height="14.0" fill="#000"/>
<rect x="1275.4" y="996.5" width="14.0" height="14.0" fill="#000"/>
<rect x="1289.3" y="999.7" width="14.0" height="14.0" fill="#000"/>
<rect x="1249.9" y="1010.4" width="14.0" height="14.0" fill="#000"/>
<rect x="1263.7" y="1018.9" width="14.0" height="14.0" fill="#000"/>
<rect x="1289.3" y="1024.2" width="14.0" height="14.0" fill="#000"/>
<rect x="1269.0" y="1037.0" width="14.0" height="14.0" fill="#000"/>
<rect x="1281.0" y="1010.0" width="14.0" height="14.0" fill="#000"/>
<path d="M1354.2 830.3L1362.0 843.9L1346.4 843.9Z" fill="#000"/>
<path d="M1354.2 875.0L1362.0 888.6L1346.4 888.6Z" fill="#000"/>
<path d="M1373.3 895.3L1381.1 908.9L1365.5 908.9Z" fill="#000"/>
<path d="M1354.2 908.0L1362.0 921.6L1346.4 921.6Z" fill="#000"/>
<path d="M1335.0 933.6L1342.8 947.2L1327.2 947.2Z" fill="#000"/>
<path d="M1373.3 928.3L1381.1 941.9L1365.5 941.9Z" fill="#000"/>
<path d="M1373.3 940.0L1381.1 953.6L1365.5 953.6Z" fill="#000"/>
<path d="M1335.0 951.7L1342.8 965.3L1327.2 965.3Z" fill="#000"/>
<path d="M1354.2 949.5L1362.0 963.1L1346.4 963.1Z" fill="#000"/>
<path d="M1373.3 958.1L1381.1 971.7L1365.5 971.7Z" fill="#000"/>
<path d="M1354.2 968.7L1362.0 982.3L1346.4 982.3Z" fill="#000"/>
<path d="M1373.3 1007.0L1381.1 1020.6L1365.5 1020.6Z" fill="#000"/>
<path d="M1354.2 1018.7L1362.0 1032.3L1346.4 1032.3Z" fill="#000"/>
<path d="M1354.2 1039.0L1362.0 1052.6L1346.4 1052.6Z" fill="#000"/>
<path d="M1413.4 922.8L1421.7 931.1L1413.4 939.4L1405.1 931.1Z" fill="#000"/>
<path d="M1426.1 929.2L1434.4 937.5L1426.1 945.8L1417.8 937.5Z" fill="#000"/>
<path d="M1437.8 929.2L1446.1 937.5L1437.8 945.8L1429.5 937.5Z" fill="#000"/>
<path d="M1450.6 919.6L1458.9 927.9L1450.6 936.2L1442.3 927.9Z" fill="#000"/>
<path d="M1426.1 944.1L1434.4 952.4L1426.1 960.7L1417.8 952.4Z" fill="#000"/>
<path d="M1437.8 950.5L1446.1 958.8L1437.8 967.1L1429.5 958.8Z" fill="#000"/>
<path d="M1426.1 961.2L1434.4 969.5L1426.1 977.8L1417.8 969.5Z" fill="#000"/>
<path d="M1432.1 991.0L1440.4 999.3L1432.1 1007.6L1423.8 999.3Z" fill="#000"/>
<path d="M1432.1 1018.6L1440.4 1026.9L1432.1 1035.2L1423.8 1026.9Z" fill="#000"/>
<path d="M1147.8 760.0V1099.6" stroke="#000" stroke-width="3.3" fill="none"/>
<path d="M1133.7 1099.6H1484.5" stroke="#000" stroke-width="2.2" fill="none"/>
<path d="M1133.7 986.7H1147.8" stroke="#000" stroke-width="2.4" fill="none"/>
<path d="M1133.7 873.9H1147.8" stroke="#000" stroke-width="2.4" fill="none"/>
<path d="M1133.7 761.0H1147.8" stroke="#000" stroke-width="2.4" fill="none"/>
<path d="M1198.5 1099.6V1113.6" stroke="#000" stroke-width="2.8" fill="none"/>
<path d="M1276.0 1099.6V1113.6" stroke="#000" stroke-width="2.8" fill="none"/>
<path d="M1353.5 1099.6V1113.6" stroke="#000" stroke-width="2.8" fill="none"/>
<path d="M1431.0 1099.6V1113.6" stroke="#000" stroke-width="2.8" fill="none"/>
<text x="1112.7" y="1108.2" font-size="24.02" font-weight="bold" textLength="16.2" lengthAdjust="spacingAndGlyphs" fill="#000" >0</text>
<text x="1085.1" y="995.3" font-size="24.02" font-weight="bold" textLength="43.8" lengthAdjust="spacingAndGlyphs" fill="#000" >200</text>
<text x="1085.1" y="882.5" font-size="24.02" font-weight="bold" textLength="43.8" lengthAdjust="spacingAndGlyphs" fill="#000" >400</text>
<text x="1085.1" y="769.6" font-size="24.02" font-weight="bold" textLength="43.8" lengthAdjust="spacingAndGlyphs" fill="#000" >600</text>
<text x="1188.1" y="1139.9" font-size="23.88" font-weight="bold" textLength="36.4" lengthAdjust="spacingAndGlyphs" fill="#000" >CN</text>
<text x="1257.5" y="1139.9" font-size="23.88" font-weight="bold" textLength="36.0" lengthAdjust="spacingAndGlyphs" fill="#000" >CP</text>
<text x="1335.4" y="1139.9" font-size="23.88" font-weight="bold" textLength="37.4" lengthAdjust="spacingAndGlyphs" fill="#000" >HN</text>
<text x="1414.1" y="1139.9" font-size="23.88" font-weight="bold" textLength="35.6" lengthAdjust="spacingAndGlyphs" fill="#000" >HP</text>
<text x="1200.6" y="718.0" font-size="30.59" font-weight="bold" textLength="230.3" lengthAdjust="spacingAndGlyphs" fill="#000" >IPGTT (30 min)</text>
<text transform="translate(1069.4,1084.2) rotate(-90)" x="0" y="0" font-size="30.45" font-weight="normal" textLength="298.4" lengthAdjust="spacingAndGlyphs" stroke="#000" stroke-width="0.5">Blood glucose (mg/dl)</text>
<path d="M1197.0 891.0V875.0H1278.0V891.0" stroke="#000" stroke-width="4.3" fill="none" stroke-linejoin="miter"/>
<path d="M1236.5 847.5V860.5M1230.1 850.6L1242.9 857.4M1230.1 857.4L1242.9 850.6" stroke="#000" stroke-width="3.0" stroke-linecap="round" fill="none"/>
<path d="M1274.5 795.0V780.0H1429.5V795.0" stroke="#000" stroke-width="4.3" fill="none" stroke-linejoin="miter"/>
<path d="M1352.0 750.5V763.5M1345.6 753.6L1358.4 760.4M1345.6 760.4L1358.4 753.6" stroke="#000" stroke-width="3.0" stroke-linecap="round" fill="none"/>
<rect x="205.0" y="1505.0" width="46.5" height="95.6" fill="#7a787b" stroke="#000" stroke-width="5"/>
<rect x="208.0" y="1508.0" width="40.5" height="91.6" fill="none" stroke="#fff" stroke-opacity="0.6" stroke-width="1"/>
<rect x="282.5" y="1515.0" width="46.0" height="85.6" fill="#d1d0d3" stroke="#000" stroke-width="5"/>
<rect x="285.5" y="1518.0" width="40.0" height="81.6" fill="none" stroke="#fff" stroke-opacity="0.6" stroke-width="1"/>
<rect x="361.0" y="1470.0" width="45.5" height="130.6" fill="#bebdbf" stroke="#000" stroke-width="5"/>
<rect x="364.0" y="1473.0" width="39.5" height="126.6" fill="none" stroke="#fff" stroke-opacity="0.6" stroke-width="1"/>
<rect x="439.0" y="1488.1" width="44.5" height="112.5" fill="#e7e7e7" stroke="#000" stroke-width="5"/>
<rect x="442.0" y="1491.1" width="38.5" height="108.5" fill="none" stroke="#fff" stroke-opacity="0.6" stroke-width="1"/>
<path d="M228.2 1492.0V1512.0M215.8 1492.0H240.8M215.8 1512.0H240.8" stroke="#222" stroke-width="2.2" fill="none"/>
<path d="M305.5 1502.0V1522.0M293.0 1502.0H318.0M293.0 1522.0H318.0" stroke="#222" stroke-width="2.2" fill="none"/>
<path d="M383.8 1454.7V1476.0M371.2 1454.7H396.2M371.2 1476.0H396.2" stroke="#222" stroke-width="2.2" fill="none"/>
<path d="M461.2 1476.0V1493.7M448.8 1476.0H473.8M448.8 1493.7H473.8" stroke="#222" stroke-width="2.2" fill="none"/>
<circle cx="208.1" cy="1475.0" r="7.2" fill="#000"/>
<circle cx="221.9" cy="1471.8" r="7.2" fill="#000"/>
<circle cx="247.5" cy="1481.4" r="7.2" fill="#000"/>
<circle cx="208.1" cy="1490.3" r="7.2" fill="#000"/>
<circle cx="221.9" cy="1497.3" r="7.2" fill="#000"/>
<circle cx="234.7" cy="1496.3" r="7.2" fill="#000"/>
<circle cx="247.5" cy="1495.2" r="7.2" fill="#000"/>
<circle cx="247.5" cy="1509.0" r="7.2" fill="#000"/>
<circle cx="221.9" cy="1519.7" r="7.2" fill="#000"/>
<circle cx="234.7" cy="1532.5" r="7.2" fill="#000"/>
<circle cx="228.3" cy="1549.5" r="7.2" fill="#000"/>
<rect x="298.6" y="1469.0" width="14.0" height="14.0" fill="#000"/>
<rect x="279.9" y="1496.7" width="14.0" height="14.0" fill="#000"/>
<rect x="292.6" y="1493.5" width="14.0" height="14.0" fill="#000"/>
<rect x="305.4" y="1502.0" width="14.0" height="14.0" fill="#000"/>
<rect x="279.9" y="1513.7" width="14.0" height="14.0" fill="#000"/>
<rect x="292.6" y="1515.9" width="14.0" height="14.0" fill="#000"/>
<rect x="317.1" y="1514.8" width="14.0" height="14.0" fill="#000"/>
<rect x="292.6" y="1532.9" width="14.0" height="14.0" fill="#000"/>
<path d="M383.3 1367.8L391.1 1381.4L375.5 1381.4Z" fill="#000"/>
<path d="M383.3 1391.2L391.1 1404.8L375.5 1404.8Z" fill="#000"/>
<path d="M383.3 1416.7L391.1 1430.3L375.5 1430.3Z" fill="#000"/>
<path d="M383.3 1437.0L391.1 1450.6L375.5 1450.6Z" fill="#000"/>
<path d="M379.5 1456.1L387.3 1469.7L371.7 1469.7Z" fill="#000"/>
<path d="M389.1 1456.1L396.9 1469.7L381.3 1469.7Z" fill="#000"/>
<path d="M364.6 1466.8L372.4 1480.4L356.8 1480.4Z" fill="#000"/>
<path d="M398.6 1466.8L406.4 1480.4L390.8 1480.4Z" fill="#000"/>
<path d="M371.0 1472.1L378.8 1485.7L363.2 1485.7Z" fill="#000"/>
<path d="M394.4 1471.0L402.2 1484.6L386.6 1484.6Z" fill="#000"/>
<path d="M379.5 1498.7L387.3 1512.3L371.7 1512.3Z" fill="#000"/>
<path d="M394.4 1496.6L402.2 1510.2L386.6 1510.2Z" fill="#000"/>
<path d="M386.9 1503.0L394.7 1516.6L379.1 1516.6Z" fill="#000"/>
<path d="M383.3 1526.4L391.1 1540.0L375.5 1540.0Z" fill="#000"/>
<path d="M461.4 1439.0L469.7 1447.3L461.4 1455.6L453.1 1447.3Z" fill="#000"/>
<path d="M442.3 1455.0L450.6 1463.3L442.3 1471.6L434.0 1463.3Z" fill="#000"/>
<path d="M480.6 1457.1L488.9 1465.4L480.6 1473.7L472.3 1465.4Z" fill="#000"/>
<path d="M442.3 1469.9L450.6 1478.2L442.3 1486.5L434.0 1478.2Z" fill="#000"/>
<path d="M461.4 1473.1L469.7 1481.4L461.4 1489.7L453.1 1481.4Z" fill="#000"/>
<path d="M480.6 1470.9L488.9 1479.2L480.6 1487.5L472.3 1479.2Z" fill="#000"/>
<path d="M451.9 1495.4L460.2 1503.7L451.9 1512.0L443.6 1503.7Z" fill="#000"/>
<path d="M471.0 1506.1L479.3 1514.4L471.0 1522.7L462.7 1514.4Z" fill="#000"/>
<path d="M461.4 1519.9L469.7 1528.2L461.4 1536.5L453.1 1528.2Z" fill="#000"/>
<path d="M177.0 1262.5V1600.6" stroke="#000" stroke-width="3.3" fill="none"/>
<path d="M162.7 1600.6H515.0" stroke="#000" stroke-width="3.4" fill="none"/>
<path d="M162.7 1488.2H177.0" stroke="#000" stroke-width="2.4" fill="none"/>
<path d="M162.7 1375.9H177.0" stroke="#000" stroke-width="2.4" fill="none"/>
<path d="M162.7 1263.5H177.0" stroke="#000" stroke-width="2.4" fill="none"/>
<path d="M228.0 1600.6V1614.6" stroke="#000" stroke-width="2.8" fill="none"/>
<path d="M305.0 1600.6V1614.6" stroke="#000" stroke-width="2.8" fill="none"/>
<path d="M383.0 1600.6V1614.6" stroke="#000" stroke-width="2.8" fill="none"/>
<path d="M461.0 1600.6V1614.6" stroke="#000" stroke-width="2.8" fill="none"/>
<text x="141.9" y="1609.2" font-size="24.02" font-weight="bold" textLength="16.2" lengthAdjust="spacingAndGlyphs" fill="#000" >0</text>
<text x="114.3" y="1496.8" font-size="24.02" font-weight="bold" textLength="43.8" lengthAdjust="spacingAndGlyphs" fill="#000" >200</text>
<text x="114.3" y="1384.5" font-size="24.02" font-weight="bold" textLength="43.8" lengthAdjust="spacingAndGlyphs" fill="#000" >400</text>
<text x="114.3" y="1272.1" font-size="24.02" font-weight="bold" textLength="43.8" lengthAdjust="spacingAndGlyphs" fill="#000" >600</text>
<text x="217.2" y="1641.2" font-size="26.40" font-weight="bold" textLength="36.6" lengthAdjust="spacingAndGlyphs" fill="#000" >CN</text>
<text x="286.9" y="1641.2" font-size="26.40" font-weight="bold" textLength="36.0" lengthAdjust="spacingAndGlyphs" fill="#000" >CP</text>
<text x="364.6" y="1641.2" font-size="26.40" font-weight="bold" textLength="37.0" lengthAdjust="spacingAndGlyphs" fill="#000" >HN</text>
<text x="442.9" y="1641.2" font-size="26.40" font-weight="bold" textLength="35.5" lengthAdjust="spacingAndGlyphs" fill="#000" >HP</text>
<text x="230.0" y="1218.0" font-size="32.40" font-weight="bold" textLength="230.0" lengthAdjust="spacingAndGlyphs" fill="#000" >IPGTT (60 min)</text>
<text transform="translate(98.6,1579.1) rotate(-90)" x="0" y="0" font-size="30.03" font-weight="normal" textLength="291.3" lengthAdjust="spacingAndGlyphs" stroke="#000" stroke-width="0.5">Blood glucose (mg/dl)</text>
<path d="M219.0 1312.5V1296.5H381.0V1312.5" stroke="#000" stroke-width="4.3" fill="none" stroke-linejoin="miter"/>
<path d="M299.0 1268.5V1281.5M292.6 1271.6L305.4 1278.4M292.6 1278.4L305.4 1271.6" stroke="#000" stroke-width="3.0" stroke-linecap="round" fill="none"/>
<path d="M303.5 1370.0V1354.0H464.0V1370.0" stroke="#000" stroke-width="4.3" fill="none" stroke-linejoin="miter"/>
<path d="M384.0 1326.0V1339.0M377.6 1329.1L390.4 1335.9M377.6 1335.9L390.4 1329.1" stroke="#000" stroke-width="3.0" stroke-linecap="round" fill="none"/>
<rect x="691.0" y="1491.7" width="44.0" height="96.6" fill="#7a787b" stroke="#000" stroke-width="5"/>
<rect x="694.0" y="1494.7" width="38.0" height="92.6" fill="none" stroke="#fff" stroke-opacity="0.6" stroke-width="1"/>
<rect x="768.5" y="1506.6" width="45.0" height="81.7" fill="#d1d0d3" stroke="#000" stroke-width="5"/>
<rect x="771.5" y="1509.6" width="39.0" height="77.7" fill="none" stroke="#fff" stroke-opacity="0.6" stroke-width="1"/>
<rect x="846.5" y="1475.7" width="46.0" height="112.6" fill="#bebdbf" stroke="#000" stroke-width="5"/>
<rect x="849.5" y="1478.7" width="40.0" height="108.6" fill="none" stroke="#fff" stroke-opacity="0.6" stroke-width="1"/>
<rect x="924.0" y="1490.2" width="45.0" height="98.1" fill="#e7e7e7" stroke="#000" stroke-width="5"/>
<rect x="927.0" y="1493.2" width="39.0" height="94.1" fill="none" stroke="#fff" stroke-opacity="0.6" stroke-width="1"/>
<path d="M713.0 1480.0V1498.0M700.5 1480.0H725.5M700.5 1498.0H725.5" stroke="#222" stroke-width="2.2" fill="none"/>
<path d="M791.0 1493.0V1512.0M778.5 1493.0H803.5M778.5 1512.0H803.5" stroke="#222" stroke-width="2.2" fill="none"/>
<path d="M869.5 1463.0V1483.0M857.0 1463.0H882.0M857.0 1483.0H882.0" stroke="#222" stroke-width="2.2" fill="none"/>
<path d="M946.5 1480.0V1495.0M934.0 1480.0H959.0M934.0 1495.0H959.0" stroke="#222" stroke-width="2.2" fill="none"/>
<circle cx="706.6" cy="1449.8" r="7.2" fill="#000"/>
<circle cx="693.8" cy="1470.0" r="7.2" fill="#000"/>
<circle cx="719.4" cy="1462.6" r="7.2" fill="#000"/>
<circle cx="706.6" cy="1481.7" r="7.2" fill="#000"/>
<circle cx="719.4" cy="1478.5" r="7.2" fill="#000"/>
<circle cx="732.2" cy="1476.4" r="7.2" fill="#000"/>
<circle cx="719.4" cy="1495.6" r="7.2" fill="#000"/>
<circle cx="693.8" cy="1506.2" r="7.2" fill="#000"/>
<circle cx="732.2" cy="1506.2" r="7.2" fill="#000"/>
<circle cx="719.4" cy="1517.9" r="7.2" fill="#000"/>
<circle cx="706.6" cy="1522.2" r="7.2" fill="#000"/>
<rect x="765.0" y="1456.6" width="14.0" height="14.0" fill="#000"/>
<rect x="783.7" y="1467.3" width="14.0" height="14.0" fill="#000"/>
<rect x="765.0" y="1476.9" width="14.0" height="14.0" fill="#000"/>
<rect x="783.7" y="1486.5" width="14.0" height="14.0" fill="#000"/>
<rect x="765.0" y="1501.4" width="14.0" height="14.0" fill="#000"/>
<rect x="802.9" y="1502.4" width="14.0" height="14.0" fill="#000"/>
<rect x="783.7" y="1512.0" width="14.0" height="14.0" fill="#000"/>
<rect x="802.9" y="1517.3" width="14.0" height="14.0" fill="#000"/>
<rect x="765.0" y="1524.8" width="14.0" height="14.0" fill="#000"/>
<path d="M850.3 1434.2L858.1 1447.8L842.5 1447.8Z" fill="#000"/>
<path d="M863.1 1433.1L870.9 1446.7L855.3 1446.7Z" fill="#000"/>
<path d="M888.2 1438.4L896.0 1452.0L880.4 1452.0Z" fill="#000"/>
<path d="M874.8 1443.7L882.6 1457.3L867.0 1457.3Z" fill="#000"/>
<path d="M850.3 1449.1L858.1 1462.7L842.5 1462.7Z" fill="#000"/>
<path d="M863.1 1448.0L870.9 1461.6L855.3 1461.6Z" fill="#000"/>
<path d="M888.2 1453.3L896.0 1466.9L880.4 1466.9Z" fill="#000"/>
<path d="M863.1 1459.7L870.9 1473.3L855.3 1473.3Z" fill="#000"/>
<path d="M874.8 1459.7L882.6 1473.3L867.0 1473.3Z" fill="#000"/>
<path d="M850.3 1485.3L858.1 1498.9L842.5 1498.9Z" fill="#000"/>
<path d="M874.8 1483.1L882.6 1496.7L867.0 1496.7Z" fill="#000"/>
<path d="M888.2 1497.0L896.0 1510.6L880.4 1510.6Z" fill="#000"/>
<path d="M850.3 1507.6L858.1 1521.2L842.5 1521.2Z" fill="#000"/>
<path d="M874.8 1505.5L882.6 1519.1L867.0 1519.1Z" fill="#000"/>
<path d="M946.6 1449.0L954.9 1457.3L946.6 1465.6L938.3 1457.3Z" fill="#000"/>
<path d="M928.0 1468.1L936.3 1476.4L928.0 1484.7L919.7 1476.4Z" fill="#000"/>
<path d="M966.4 1466.0L974.7 1474.3L966.4 1482.6L958.1 1474.3Z" fill="#000"/>
<path d="M940.8 1472.4L949.1 1480.7L940.8 1489.0L932.5 1480.7Z" fill="#000"/>
<path d="M953.6 1473.4L961.9 1481.7L953.6 1490.0L945.3 1481.7Z" fill="#000"/>
<path d="M928.0 1485.2L936.3 1493.5L928.0 1501.8L919.7 1493.5Z" fill="#000"/>
<path d="M953.6 1492.6L961.9 1500.9L953.6 1509.2L945.3 1500.9Z" fill="#000"/>
<path d="M940.8 1504.3L949.1 1512.6L940.8 1520.9L932.5 1512.6Z" fill="#000"/>
<path d="M661.4 1250.0V1588.3" stroke="#000" stroke-width="3.3" fill="none"/>
<path d="M647.4 1588.3H1001.0" stroke="#000" stroke-width="3.4" fill="none"/>
<path d="M647.4 1475.9H661.4" stroke="#000" stroke-width="2.4" fill="none"/>
<path d="M647.4 1363.4H661.4" stroke="#000" stroke-width="2.4" fill="none"/>
<path d="M647.4 1251.0H661.4" stroke="#000" stroke-width="2.4" fill="none"/>
<path d="M712.5 1588.3V1602.3" stroke="#000" stroke-width="2.8" fill="none"/>
<path d="M790.0 1588.3V1602.3" stroke="#000" stroke-width="2.8" fill="none"/>
<path d="M868.5 1588.3V1602.3" stroke="#000" stroke-width="2.8" fill="none"/>
<path d="M947.5 1588.3V1602.3" stroke="#000" stroke-width="2.8" fill="none"/>
<text x="626.9" y="1596.9" font-size="24.02" font-weight="bold" textLength="16.2" lengthAdjust="spacingAndGlyphs" fill="#000" >0</text>
<text x="599.3" y="1484.5" font-size="24.02" font-weight="bold" textLength="43.8" lengthAdjust="spacingAndGlyphs" fill="#000" >200</text>
<text x="599.3" y="1372.0" font-size="24.02" font-weight="bold" textLength="43.8" lengthAdjust="spacingAndGlyphs" fill="#000" >400</text>
<text x="599.3" y="1259.6" font-size="24.02" font-weight="bold" textLength="43.8" lengthAdjust="spacingAndGlyphs" fill="#000" >600</text>
<text x="702.1" y="1628.9" font-size="26.96" font-weight="bold" textLength="37.1" lengthAdjust="spacingAndGlyphs" fill="#000" >CN</text>
<text x="771.7" y="1628.9" font-size="26.96" font-weight="bold" textLength="37.2" lengthAdjust="spacingAndGlyphs" fill="#000" >CP</text>
<text x="850.0" y="1628.9" font-size="26.96" font-weight="bold" textLength="37.2" lengthAdjust="spacingAndGlyphs" fill="#000" >HN</text>
<text x="928.7" y="1628.9" font-size="26.96" font-weight="bold" textLength="36.3" lengthAdjust="spacingAndGlyphs" fill="#000" >HP</text>
<text x="718.8" y="1204.8" font-size="31.70" font-weight="bold" textLength="231.2" lengthAdjust="spacingAndGlyphs" fill="#000" >IPGTT (90 min)</text>
<text transform="translate(583.2,1565.3) rotate(-90)" x="0" y="0" font-size="30.45" font-weight="normal" textLength="291.4" lengthAdjust="spacingAndGlyphs" stroke="#000" stroke-width="0.5">Blood glucose (mg/dl)</text>
<path d="M707.5 1325.0V1306.5H868.5V1325.0" stroke="#000" stroke-width="4.3" fill="none" stroke-linejoin="miter"/>
<path d="M787.5 1277.5V1290.5M781.1 1280.6L793.9 1287.4M781.1 1287.4L793.9 1280.6" stroke="#000" stroke-width="3.0" stroke-linecap="round" fill="none"/>
<path d="M786.5 1390.0V1374.0H950.0V1390.0" stroke="#000" stroke-width="4.3" fill="none" stroke-linejoin="miter"/>
<path d="M868.5 1345.5V1358.5M862.1 1348.6L874.9 1355.4M862.1 1355.4L874.9 1348.6" stroke="#000" stroke-width="3.0" stroke-linecap="round" fill="none"/>
<rect x="1183.5" y="1508.0" width="45.0" height="78.4" fill="#7a787b" stroke="#000" stroke-width="5"/>
<rect x="1186.5" y="1511.0" width="39.0" height="74.4" fill="none" stroke="#fff" stroke-opacity="0.6" stroke-width="1"/>
<rect x="1260.5" y="1526.0" width="45.0" height="60.4" fill="#d1d0d3" stroke="#000" stroke-width="5"/>
<rect x="1263.5" y="1529.0" width="39.0" height="56.4" fill="none" stroke="#fff" stroke-opacity="0.6" stroke-width="1"/>
<rect x="1339.5" y="1491.0" width="44.0" height="95.4" fill="#bebdbf" stroke="#000" stroke-width="5"/>
<rect x="1342.5" y="1494.0" width="38.0" height="91.4" fill="none" stroke="#fff" stroke-opacity="0.6" stroke-width="1"/>
<rect x="1418.0" y="1503.0" width="44.0" height="83.4" fill="#e7e7e7" stroke="#000" stroke-width="5"/>
<rect x="1421.0" y="1506.0" width="38.0" height="79.4" fill="none" stroke="#fff" stroke-opacity="0.6" stroke-width="1"/>
<path d="M1206.0 1498.7V1512.0M1193.5 1498.7H1218.5M1193.5 1512.0H1218.5" stroke="#222" stroke-width="2.2" fill="none"/>
<path d="M1283.0 1517.0V1530.0M1270.5 1517.0H1295.5M1270.5 1530.0H1295.5" stroke="#222" stroke-width="2.2" fill="none"/>
<path d="M1361.5 1480.0V1497.0M1349.0 1480.0H1374.0M1349.0 1497.0H1374.0" stroke="#222" stroke-width="2.2" fill="none"/>
<path d="M1440.0 1495.0V1506.0M1427.5 1495.0H1452.5M1427.5 1506.0H1452.5" stroke="#222" stroke-width="2.2" fill="none"/>
<circle cx="1205.1" cy="1462.4" r="7.2" fill="#000"/>
<circle cx="1201.9" cy="1490.0" r="7.2" fill="#000"/>
<circle cx="1193.4" cy="1492.2" r="7.2" fill="#000"/>
<circle cx="1187.0" cy="1503.9" r="7.2" fill="#000"/>
<circle cx="1225.4" cy="1500.7" r="7.2" fill="#000"/>
<circle cx="1199.8" cy="1510.3" r="7.2" fill="#000"/>
<circle cx="1187.0" cy="1516.6" r="7.2" fill="#000"/>
<circle cx="1201.9" cy="1518.8" r="7.2" fill="#000"/>
<circle cx="1219.0" cy="1516.6" r="7.2" fill="#000"/>
<circle cx="1216.8" cy="1526.2" r="7.2" fill="#000"/>
<circle cx="1225.4" cy="1510.3" r="7.2" fill="#000"/>
<rect x="1276.3" y="1492.6" width="14.0" height="14.0" fill="#000"/>
<rect x="1263.1" y="1509.6" width="14.0" height="14.0" fill="#000"/>
<rect x="1274.8" y="1513.9" width="14.0" height="14.0" fill="#000"/>
<rect x="1288.6" y="1512.8" width="14.0" height="14.0" fill="#000"/>
<rect x="1297.1" y="1516.0" width="14.0" height="14.0" fill="#000"/>
<rect x="1263.1" y="1524.5" width="14.0" height="14.0" fill="#000"/>
<rect x="1288.6" y="1528.8" width="14.0" height="14.0" fill="#000"/>
<path d="M1371.2 1443.5L1379.0 1457.1L1363.4 1457.1Z" fill="#000"/>
<path d="M1352.0 1452.0L1359.8 1465.6L1344.2 1465.6Z" fill="#000"/>
<path d="M1371.2 1463.7L1379.0 1477.3L1363.4 1477.3Z" fill="#000"/>
<path d="M1380.8 1463.7L1388.6 1477.3L1373.0 1477.3Z" fill="#000"/>
<path d="M1342.4 1469.1L1350.2 1482.7L1334.6 1482.7Z" fill="#000"/>
<path d="M1353.1 1471.2L1360.9 1484.8L1345.3 1484.8Z" fill="#000"/>
<path d="M1361.6 1473.3L1369.4 1486.9L1353.8 1486.9Z" fill="#000"/>
<path d="M1342.4 1484.0L1350.2 1497.6L1334.6 1497.6Z" fill="#000"/>
<path d="M1353.1 1485.0L1360.9 1498.6L1345.3 1498.6Z" fill="#000"/>
<path d="M1361.6 1491.4L1369.4 1505.0L1353.8 1505.0Z" fill="#000"/>
<path d="M1371.2 1493.5L1379.0 1507.1L1363.4 1507.1Z" fill="#000"/>
<path d="M1352.0 1510.6L1359.8 1524.2L1344.2 1524.2Z" fill="#000"/>
<path d="M1361.6 1505.3L1369.4 1518.9L1353.8 1518.9Z" fill="#000"/>
<path d="M1371.2 1510.6L1379.0 1524.2L1363.4 1524.2Z" fill="#000"/>
<path d="M1439.3 1479.6L1447.6 1487.9L1439.3 1496.2L1431.0 1487.9Z" fill="#000"/>
<path d="M1420.2 1488.1L1428.5 1496.4L1420.2 1504.7L1411.9 1496.4Z" fill="#000"/>
<path d="M1434.0 1490.2L1442.3 1498.5L1434.0 1506.8L1425.7 1498.5Z" fill="#000"/>
<path d="M1446.8 1493.4L1455.1 1501.7L1446.8 1510.0L1438.5 1501.7Z" fill="#000"/>
<path d="M1457.4 1490.2L1465.7 1498.5L1457.4 1506.8L1449.1 1498.5Z" fill="#000"/>
<path d="M1444.6 1500.9L1452.9 1509.2L1444.6 1517.5L1436.3 1509.2Z" fill="#000"/>
<path d="M1431.9 1507.3L1440.2 1515.6L1431.9 1523.9L1423.6 1515.6Z" fill="#000"/>
<path d="M1155.0 1249.0V1586.4" stroke="#000" stroke-width="3.3" fill="none"/>
<path d="M1140.7 1586.4H1492.0" stroke="#000" stroke-width="3.4" fill="none"/>
<path d="M1140.7 1474.3H1155.0" stroke="#000" stroke-width="2.4" fill="none"/>
<path d="M1140.7 1362.1H1155.0" stroke="#000" stroke-width="2.4" fill="none"/>
<path d="M1140.7 1250.0H1155.0" stroke="#000" stroke-width="2.4" fill="none"/>
<path d="M1206.0 1586.4V1600.4" stroke="#000" stroke-width="2.8" fill="none"/>
<path d="M1283.0 1586.4V1600.4" stroke="#000" stroke-width="2.8" fill="none"/>
<path d="M1361.0 1586.4V1600.4" stroke="#000" stroke-width="2.8" fill="none"/>
<path d="M1438.5 1586.4V1600.4" stroke="#000" stroke-width="2.8" fill="none"/>
<text x="1119.7" y="1595.0" font-size="24.02" font-weight="bold" textLength="16.2" lengthAdjust="spacingAndGlyphs" fill="#000" >0</text>
<text x="1092.1" y="1482.9" font-size="24.02" font-weight="bold" textLength="43.8" lengthAdjust="spacingAndGlyphs" fill="#000" >200</text>
<text x="1092.1" y="1370.7" font-size="24.02" font-weight="bold" textLength="43.8" lengthAdjust="spacingAndGlyphs" fill="#000" >400</text>
<text x="1092.1" y="1258.6" font-size="24.02" font-weight="bold" textLength="43.8" lengthAdjust="spacingAndGlyphs" fill="#000" >600</text>
<text x="1195.0" y="1627.2" font-size="26.68" font-weight="bold" textLength="36.3" lengthAdjust="spacingAndGlyphs" fill="#000" >CN</text>
<text x="1264.5" y="1627.2" font-size="26.68" font-weight="bold" textLength="36.3" lengthAdjust="spacingAndGlyphs" fill="#000" >CP</text>
<text x="1342.0" y="1627.2" font-size="26.68" font-weight="bold" textLength="38.1" lengthAdjust="spacingAndGlyphs" fill="#000" >HN</text>
<text x="1420.7" y="1627.2" font-size="26.68" font-weight="bold" textLength="35.6" lengthAdjust="spacingAndGlyphs" fill="#000" >HP</text>
<text x="1203.0" y="1204.3" font-size="32.82" font-weight="bold" textLength="247.7" lengthAdjust="spacingAndGlyphs" fill="#000" >IPGTT (120 min)</text>
<text transform="translate(1076.1,1564.0) rotate(-90)" x="0" y="0" font-size="30.17" font-weight="normal" textLength="291.3" lengthAdjust="spacingAndGlyphs" stroke="#000" stroke-width="0.5">Blood glucose (mg/dl)</text>
<path d="M1197.0 1417.5V1402.5H1283.0V1417.5" stroke="#000" stroke-width="4.3" fill="none" stroke-linejoin="miter"/>
<path d="M1240.5 1371.5V1384.5M1234.1 1374.6L1246.9 1381.4M1234.1 1381.4L1246.9 1374.6" stroke="#000" stroke-width="3.0" stroke-linecap="round" fill="none"/>
<path d="M1207.0 1370.0V1352.5H1371.0V1370.0" stroke="#000" stroke-width="4.3" fill="none" stroke-linejoin="miter"/>
<path d="M1289.5 1324.5V1337.5M1283.1 1327.6L1295.9 1334.4M1283.1 1334.4L1295.9 1327.6" stroke="#000" stroke-width="3.0" stroke-linecap="round" fill="none"/>
<path d="M1276.0 1320.0V1303.5H1448.0V1320.0" stroke="#000" stroke-width="4.3" fill="none" stroke-linejoin="miter"/>
<path d="M1362.0 1275.5V1288.5M1355.6 1278.6L1368.4 1285.4M1355.6 1285.4L1368.4 1278.6" stroke="#000" stroke-width="3.0" stroke-linecap="round" fill="none"/>
<rect x="204.9" y="1901.8" width="41.3" height="177.8" fill="#7a787b" stroke="#000" stroke-width="5"/>
<rect x="207.9" y="1904.8" width="35.3" height="173.8" fill="none" stroke="#fff" stroke-opacity="0.6" stroke-width="1"/>
<rect x="277.5" y="1905.9" width="41.0" height="173.7" fill="#d1d0d3" stroke="#000" stroke-width="5"/>
<rect x="280.5" y="1908.9" width="35.0" height="169.7" fill="none" stroke="#fff" stroke-opacity="0.6" stroke-width="1"/>
<rect x="350.1" y="1838.9" width="43.5" height="240.7" fill="#bebdbf" stroke="#000" stroke-width="5"/>
<rect x="353.1" y="1841.9" width="37.5" height="236.7" fill="none" stroke="#fff" stroke-opacity="0.6" stroke-width="1"/>
<rect x="424.3" y="1890.4" width="42.4" height="189.2" fill="#e7e7e7" stroke="#000" stroke-width="5"/>
<rect x="427.3" y="1893.4" width="36.4" height="185.2" fill="none" stroke="#fff" stroke-opacity="0.6" stroke-width="1"/>
<path d="M225.6 1887.9V1910.5M213.1 1887.9H238.1M213.1 1910.5H238.1" stroke="#222" stroke-width="2.2" fill="none"/>
<path d="M298.0 1895.1V1910.6M285.5 1895.1H310.5M285.5 1910.6H310.5" stroke="#222" stroke-width="2.2" fill="none"/>
<path d="M371.9 1824.1V1843.6M359.4 1824.1H384.4M359.4 1843.6H384.4" stroke="#222" stroke-width="2.2" fill="none"/>
<path d="M445.5 1879.7V1895.1M433.0 1879.7H458.0M433.0 1895.1H458.0" stroke="#222" stroke-width="2.2" fill="none"/>
<circle cx="225.4" cy="1858.0" r="7.2" fill="#000"/>
<circle cx="207.5" cy="1887.9" r="7.2" fill="#000"/>
<circle cx="243.6" cy="1887.9" r="7.2" fill="#000"/>
<circle cx="207.5" cy="1907.5" r="7.2" fill="#000"/>
<circle cx="243.6" cy="1912.7" r="7.2" fill="#000"/>
<circle cx="225.4" cy="1934.3" r="7.2" fill="#000"/>
<rect x="309.7" y="1868.0" width="14.0" height="14.0" fill="#000"/>
<rect x="273.7" y="1879.9" width="14.0" height="14.0" fill="#000"/>
<rect x="309.7" y="1890.6" width="14.0" height="14.0" fill="#000"/>
<rect x="273.7" y="1901.5" width="14.0" height="14.0" fill="#000"/>
<rect x="309.7" y="1912.9" width="14.0" height="14.0" fill="#000"/>
<rect x="291.6" y="1927.3" width="14.0" height="14.0" fill="#000"/>
<path d="M372.0 1779.8L379.8 1793.4L364.2 1793.4Z" fill="#000"/>
<path d="M353.8 1817.9L361.6 1831.5L346.0 1831.5Z" fill="#000"/>
<path d="M389.9 1827.2L397.7 1840.8L382.1 1840.8Z" fill="#000"/>
<path d="M389.9 1844.7L397.7 1858.3L382.1 1858.3Z" fill="#000"/>
<path d="M372.0 1861.2L379.8 1874.8L364.2 1874.8Z" fill="#000"/>
<path d="M357.9 1835.4L365.7 1849.0L350.1 1849.0Z" fill="#000"/>
<path d="M445.1 1844.6L453.4 1852.9L445.1 1861.2L436.8 1852.9Z" fill="#000"/>
<path d="M427.0 1875.5L435.3 1883.8L427.0 1892.1L418.7 1883.8Z" fill="#000"/>
<path d="M463.0 1871.4L471.3 1879.7L463.0 1888.0L454.7 1879.7Z" fill="#000"/>
<path d="M463.0 1883.8L471.3 1892.1L463.0 1900.4L454.7 1892.1Z" fill="#000"/>
<path d="M445.1 1891.0L453.4 1899.3L445.1 1907.6L436.8 1899.3Z" fill="#000"/>
<path d="M445.1 1903.3L453.4 1911.6L445.1 1919.9L436.8 1911.6Z" fill="#000"/>
<path d="M177.0 1762.2V2079.6" stroke="#000" stroke-width="3.3" fill="none"/>
<path d="M163.4 2079.6H495.0" stroke="#000" stroke-width="2.4" fill="none"/>
<path d="M163.4 1974.1H177.0" stroke="#000" stroke-width="2.4" fill="none"/>
<path d="M163.4 1868.7H177.0" stroke="#000" stroke-width="2.4" fill="none"/>
<path d="M163.4 1763.2H177.0" stroke="#000" stroke-width="2.4" fill="none"/>
<path d="M225.0 2079.6V2093.6" stroke="#000" stroke-width="2.8" fill="none"/>
<path d="M298.5 2079.6V2093.6" stroke="#000" stroke-width="2.8" fill="none"/>
<path d="M371.5 2079.6V2093.6" stroke="#000" stroke-width="2.8" fill="none"/>
<path d="M444.0 2079.6V2093.6" stroke="#000" stroke-width="2.8" fill="none"/>
<text x="145.3" y="2088.2" font-size="24.02" font-weight="bold" textLength="14.9" lengthAdjust="spacingAndGlyphs" fill="#000" >0</text>
<text x="132.8" y="1982.7" font-size="24.02" font-weight="bold" textLength="27.4" lengthAdjust="spacingAndGlyphs" fill="#000" >20</text>
<text x="132.8" y="1877.3" font-size="24.02" font-weight="bold" textLength="27.4" lengthAdjust="spacingAndGlyphs" fill="#000" >40</text>
<text x="132.8" y="1771.8" font-size="24.02" font-weight="bold" textLength="27.4" lengthAdjust="spacingAndGlyphs" fill="#000" >60</text>
<text x="215.4" y="2117.2" font-size="22.07" font-weight="bold" textLength="34.1" lengthAdjust="spacingAndGlyphs" fill="#000" >CN</text>
<text x="280.9" y="2117.2" font-size="22.07" font-weight="bold" textLength="33.9" lengthAdjust="spacingAndGlyphs" fill="#000" >CP</text>
<text x="354.5" y="2117.2" font-size="22.07" font-weight="bold" textLength="34.5" lengthAdjust="spacingAndGlyphs" fill="#000" >HN</text>
<text x="428.0" y="2117.2" font-size="22.07" font-weight="bold" textLength="33.8" lengthAdjust="spacingAndGlyphs" fill="#000" >HP</text>
<text x="242.7" y="1721.7" font-size="29.47" font-weight="bold" textLength="186.7" lengthAdjust="spacingAndGlyphs" fill="#000" >Body Weight</text>
<text transform="translate(113.5,1938.1) rotate(-90)" x="0" y="0" font-size="26.54" font-weight="normal" textLength="34.3" lengthAdjust="spacingAndGlyphs" stroke="#000" stroke-width="0.5">(g)</text>
<path d="M350.7 1760.2H389.9" stroke="#000" stroke-width="5" fill="none"/>
<path d="M369.9 1733.1V1746.1M363.5 1736.2L376.3 1743.0M363.5 1743.0L376.3 1736.2" stroke="#000" stroke-width="3.0" stroke-linecap="round" fill="none"/>
<rect x="649.4" y="2004.9" width="41.6" height="64.1" fill="#7a787b" stroke="#000" stroke-width="5"/>
<rect x="652.4" y="2007.9" width="35.6" height="60.1" fill="none" stroke="#fff" stroke-opacity="0.6" stroke-width="1"/>
<rect x="722.1" y="1995.2" width="41.4" height="73.8" fill="#d1d0d3" stroke="#000" stroke-width="5"/>
<rect x="725.1" y="1998.2" width="35.4" height="69.8" fill="none" stroke="#fff" stroke-opacity="0.6" stroke-width="1"/>
<rect x="795.3" y="1885.0" width="41.3" height="184.0" fill="#bebdbf" stroke="#000" stroke-width="5"/>
<rect x="798.3" y="1888.0" width="35.3" height="180.0" fill="none" stroke="#fff" stroke-opacity="0.6" stroke-width="1"/>
<rect x="868.0" y="1940.6" width="40.8" height="128.4" fill="#e7e7e7" stroke="#000" stroke-width="5"/>
<rect x="871.0" y="1943.6" width="34.8" height="124.4" fill="none" stroke="#fff" stroke-opacity="0.6" stroke-width="1"/>
<path d="M670.2 1983.4V2020.1M657.7 1983.4H682.7M657.7 2020.1H682.7" stroke="#222" stroke-width="2.2" fill="none"/>
<path d="M742.8 1977.9V2004.0M730.3 1977.9H755.3M730.3 2004.0H755.3" stroke="#222" stroke-width="2.2" fill="none"/>
<path d="M816.0 1856.7V1906.2M803.5 1856.7H828.5M803.5 1906.2H828.5" stroke="#222" stroke-width="2.2" fill="none"/>
<path d="M888.4 1922.7V1950.5M875.9 1922.7H900.9M875.9 1950.5H900.9" stroke="#222" stroke-width="2.2" fill="none"/>
<circle cx="669.8" cy="1932.3" r="7.2" fill="#000"/>
<circle cx="651.6" cy="1983.4" r="7.2" fill="#000"/>
<circle cx="687.7" cy="1986.5" r="7.2" fill="#000"/>
<circle cx="651.6" cy="2020.1" r="7.2" fill="#000"/>
<circle cx="687.7" cy="2026.7" r="7.2" fill="#000"/>
<circle cx="669.8" cy="2061.8" r="7.2" fill="#000"/>
<rect x="753.2" y="1938.3" width="14.0" height="14.0" fill="#000"/>
<rect x="735.3" y="1948.6" width="14.0" height="14.0" fill="#000"/>
<rect x="717.8" y="1994.0" width="14.0" height="14.0" fill="#000"/>
<rect x="735.3" y="2003.2" width="14.0" height="14.0" fill="#000"/>
<rect x="753.2" y="2003.2" width="14.0" height="14.0" fill="#000"/>
<rect x="735.3" y="2017.7" width="14.0" height="14.0" fill="#000"/>
<path d="M815.5 1767.1L823.3 1780.7L807.7 1780.7Z" fill="#000"/>
<path d="M815.5 1838.2L823.3 1851.8L807.7 1851.8Z" fill="#000"/>
<path d="M815.5 1888.7L823.3 1902.3L807.7 1902.3Z" fill="#000"/>
<path d="M815.5 1910.3L823.3 1923.9L807.7 1923.9Z" fill="#000"/>
<path d="M797.9 1921.7L805.7 1935.3L790.1 1935.3Z" fill="#000"/>
<path d="M834.0 1914.5L841.8 1928.1L826.2 1928.1Z" fill="#000"/>
<path d="M888.2 1865.9L896.5 1874.2L888.2 1882.5L879.9 1874.2Z" fill="#000"/>
<path d="M888.2 1910.2L896.5 1918.5L888.2 1926.8L879.9 1918.5Z" fill="#000"/>
<path d="M888.2 1927.8L896.5 1936.1L888.2 1944.4L879.9 1936.1Z" fill="#000"/>
<path d="M888.2 1945.3L896.5 1953.6L888.2 1961.9L879.9 1953.6Z" fill="#000"/>
<path d="M870.0 1958.7L878.3 1967.0L870.0 1975.3L861.7 1967.0Z" fill="#000"/>
<path d="M906.1 1956.6L914.4 1964.9L906.1 1973.2L897.8 1964.9Z" fill="#000"/>
<path d="M621.4 1751.5V2069.0" stroke="#000" stroke-width="3.3" fill="none"/>
<path d="M608.0 2069.0H938.5" stroke="#000" stroke-width="3.4" fill="none"/>
<path d="M608.0 1963.5H621.4" stroke="#000" stroke-width="2.4" fill="none"/>
<path d="M608.0 1858.0H621.4" stroke="#000" stroke-width="2.4" fill="none"/>
<path d="M608.0 1752.5H621.4" stroke="#000" stroke-width="2.4" fill="none"/>
<path d="M670.0 2069.0V2083.0" stroke="#000" stroke-width="2.8" fill="none"/>
<path d="M742.5 2069.0V2083.0" stroke="#000" stroke-width="2.8" fill="none"/>
<path d="M815.0 2069.0V2083.0" stroke="#000" stroke-width="2.8" fill="none"/>
<path d="M887.5 2069.0V2083.0" stroke="#000" stroke-width="2.8" fill="none"/>
<text x="588.0" y="2077.6" font-size="24.02" font-weight="bold" textLength="14.9" lengthAdjust="spacingAndGlyphs" fill="#000" >0</text>
<text x="575.5" y="1972.1" font-size="24.02" font-weight="bold" textLength="27.4" lengthAdjust="spacingAndGlyphs" fill="#000" >10</text>
<text x="575.5" y="1866.6" font-size="24.02" font-weight="bold" textLength="27.4" lengthAdjust="spacingAndGlyphs" fill="#000" >20</text>
<text x="575.5" y="1761.1" font-size="24.02" font-weight="bold" textLength="27.4" lengthAdjust="spacingAndGlyphs" fill="#000" >30</text>
<text x="659.5" y="2107.2" font-size="25.00" font-weight="bold" textLength="33.0" lengthAdjust="spacingAndGlyphs" fill="#000" >CN</text>
<text x="724.5" y="2107.2" font-size="25.00" font-weight="bold" textLength="33.4" lengthAdjust="spacingAndGlyphs" fill="#000" >CP</text>
<text x="797.5" y="2107.2" font-size="25.00" font-weight="bold" textLength="34.0" lengthAdjust="spacingAndGlyphs" fill="#000" >HN</text>
<text x="870.9" y="2107.2" font-size="25.00" font-weight="bold" textLength="32.8" lengthAdjust="spacingAndGlyphs" fill="#000" >HP</text>
<text x="756.1" y="1710.8" font-size="28.35" font-weight="bold" textLength="47.6" lengthAdjust="spacingAndGlyphs" fill="#000" >Fat</text>
<text transform="translate(558.2,1927.4) rotate(-90)" x="0" y="0" font-size="26.54" font-weight="normal" textLength="34.3" lengthAdjust="spacingAndGlyphs" stroke="#000" stroke-width="0.5">(g)</text>
<path d="M805.1 1745.5H826.8" stroke="#000" stroke-width="5" fill="none"/>
<path d="M816.0 1718.5V1731.5M809.6 1721.6L822.4 1728.4M809.6 1728.4L822.4 1721.6" stroke="#000" stroke-width="3.0" stroke-linecap="round" fill="none"/>
<rect x="1072.5" y="1902.5" width="41.2" height="166.5" fill="#7a787b" stroke="#000" stroke-width="5"/>
<rect x="1075.5" y="1905.5" width="35.2" height="162.5" fill="none" stroke="#fff" stroke-opacity="0.6" stroke-width="1"/>
<rect x="1145.2" y="1942.1" width="41.4" height="126.9" fill="#d1d0d3" stroke="#000" stroke-width="5"/>
<rect x="1148.2" y="1945.1" width="35.4" height="122.9" fill="none" stroke="#fff" stroke-opacity="0.6" stroke-width="1"/>
<rect x="1218.5" y="1882.6" width="41.1" height="186.4" fill="#bebdbf" stroke="#000" stroke-width="5"/>
<rect x="1221.5" y="1885.6" width="35.1" height="182.4" fill="none" stroke="#fff" stroke-opacity="0.6" stroke-width="1"/>
<rect x="1291.1" y="1984.6" width="41.2" height="84.4" fill="#e7e7e7" stroke="#000" stroke-width="5"/>
<rect x="1294.1" y="1987.6" width="35.2" height="80.4" fill="none" stroke="#fff" stroke-opacity="0.6" stroke-width="1"/>
<path d="M1093.1 1885.9V1911.8M1080.6 1885.9H1105.6M1080.6 1911.8H1105.6" stroke="#222" stroke-width="2.2" fill="none"/>
<path d="M1165.9 1920.3V1955.2M1153.4 1920.3H1178.4M1153.4 1955.2H1178.4" stroke="#222" stroke-width="2.2" fill="none"/>
<path d="M1239.0 1861.6V1896.4M1226.5 1861.6H1251.5M1226.5 1896.4H1251.5" stroke="#222" stroke-width="2.2" fill="none"/>
<path d="M1311.7 1970.7V1990.0M1299.2 1970.7H1324.2M1299.2 1990.0H1324.2" stroke="#222" stroke-width="2.2" fill="none"/>
<circle cx="1092.9" cy="1869.5" r="7.2" fill="#000"/>
<circle cx="1074.3" cy="1885.5" r="7.2" fill="#000"/>
<circle cx="1092.9" cy="1884.5" r="7.2" fill="#000"/>
<circle cx="1110.8" cy="1895.4" r="7.2" fill="#000"/>
<circle cx="1092.9" cy="1899.4" r="7.2" fill="#000"/>
<circle cx="1092.9" cy="1958.2" r="7.2" fill="#000"/>
<rect x="1158.6" y="1881.5" width="14.0" height="14.0" fill="#000"/>
<rect x="1140.6" y="1908.3" width="14.0" height="14.0" fill="#000"/>
<rect x="1176.5" y="1908.7" width="14.0" height="14.0" fill="#000"/>
<rect x="1158.6" y="1935.2" width="14.0" height="14.0" fill="#000"/>
<rect x="1158.6" y="1959.1" width="14.0" height="14.0" fill="#000"/>
<rect x="1158.6" y="1995.0" width="14.0" height="14.0" fill="#000"/>
<path d="M1238.8 1806.6L1246.6 1820.2L1231.0 1820.2Z" fill="#000"/>
<path d="M1238.8 1829.5L1246.6 1843.1L1231.0 1843.1Z" fill="#000"/>
<path d="M1238.8 1881.3L1246.6 1894.9L1231.0 1894.9Z" fill="#000"/>
<path d="M1238.8 1899.2L1246.6 1912.8L1231.0 1912.8Z" fill="#000"/>
<path d="M1221.3 1910.1L1229.1 1923.7L1213.5 1923.7Z" fill="#000"/>
<path d="M1257.2 1905.2L1265.0 1918.8L1249.4 1918.8Z" fill="#000"/>
<path d="M1311.3 1942.9L1319.6 1951.2L1311.3 1959.5L1303.0 1951.2Z" fill="#000"/>
<path d="M1293.4 1963.8L1301.7 1972.1L1293.4 1980.4L1285.1 1972.1Z" fill="#000"/>
<path d="M1311.3 1960.8L1319.6 1969.1L1311.3 1977.4L1303.0 1969.1Z" fill="#000"/>
<path d="M1329.3 1965.8L1337.6 1974.1L1329.3 1982.4L1321.0 1974.1Z" fill="#000"/>
<path d="M1311.3 1992.7L1319.6 2001.0L1311.3 2009.3L1303.0 2001.0Z" fill="#000"/>
<path d="M1311.3 2006.6L1319.6 2014.9L1311.3 2023.2L1303.0 2014.9Z" fill="#000"/>
<path d="M1044.4 1751.7V2069.0" stroke="#000" stroke-width="3.3" fill="none"/>
<path d="M1031.4 2069.0H1362.0" stroke="#000" stroke-width="3.4" fill="none"/>
<path d="M1031.4 2016.3H1044.4" stroke="#000" stroke-width="2.4" fill="none"/>
<path d="M1031.4 1963.6H1044.4" stroke="#000" stroke-width="2.4" fill="none"/>
<path d="M1031.4 1910.8H1044.4" stroke="#000" stroke-width="2.4" fill="none"/>
<path d="M1031.4 1858.1H1044.4" stroke="#000" stroke-width="2.4" fill="none"/>
<path d="M1031.4 1805.4H1044.4" stroke="#000" stroke-width="2.4" fill="none"/>
<path d="M1031.4 1752.7H1044.4" stroke="#000" stroke-width="2.4" fill="none"/>
<path d="M1092.5 2069.0V2083.0" stroke="#000" stroke-width="2.8" fill="none"/>
<path d="M1165.5 2069.0V2083.0" stroke="#000" stroke-width="2.8" fill="none"/>
<path d="M1238.5 2069.0V2083.0" stroke="#000" stroke-width="2.8" fill="none"/>
<path d="M1311.0 2069.0V2083.0" stroke="#000" stroke-width="2.8" fill="none"/>
<text x="999.5" y="2077.6" font-size="24.02" font-weight="bold" textLength="27.4" lengthAdjust="spacingAndGlyphs" fill="#000" >18</text>
<text x="999.5" y="2024.9" font-size="24.02" font-weight="bold" textLength="27.4" lengthAdjust="spacingAndGlyphs" fill="#000" >20</text>
<text x="999.5" y="1972.2" font-size="24.02" font-weight="bold" textLength="27.4" lengthAdjust="spacingAndGlyphs" fill="#000" >22</text>
<text x="999.5" y="1919.4" font-size="24.02" font-weight="bold" textLength="27.4" lengthAdjust="spacingAndGlyphs" fill="#000" >24</text>
<text x="999.5" y="1866.7" font-size="24.02" font-weight="bold" textLength="27.4" lengthAdjust="spacingAndGlyphs" fill="#000" >26</text>
<text x="999.5" y="1814.0" font-size="24.02" font-weight="bold" textLength="27.4" lengthAdjust="spacingAndGlyphs" fill="#000" >28</text>
<text x="999.5" y="1761.3" font-size="24.02" font-weight="bold" textLength="27.4" lengthAdjust="spacingAndGlyphs" fill="#000" >30</text>
<text x="1082.8" y="2107.2" font-size="25.00" font-weight="bold" textLength="32.8" lengthAdjust="spacingAndGlyphs" fill="#000" >CN</text>
<text x="1147.5" y="2107.2" font-size="25.00" font-weight="bold" textLength="33.6" lengthAdjust="spacingAndGlyphs" fill="#000" >CP</text>
<text x="1220.8" y="2107.2" font-size="25.00" font-weight="bold" textLength="33.4" lengthAdjust="spacingAndGlyphs" fill="#000" >HN</text>
<text x="1293.8" y="2107.2" font-size="25.00" font-weight="bold" textLength="33.4" lengthAdjust="spacingAndGlyphs" fill="#000" >HP</text>
<text x="1164.2" y="1710.8" font-size="28.35" font-weight="bold" textLength="72.8" lengthAdjust="spacingAndGlyphs" fill="#000" >Lean</text>
<text transform="translate(981.2,1927.4) rotate(-90)" x="0" y="0" font-size="26.54" font-weight="normal" textLength="34.3" lengthAdjust="spacingAndGlyphs" stroke="#000" stroke-width="0.5">(g)</text>
<path d="M1221.7 1775.5H1256.2" stroke="#000" stroke-width="5" fill="none"/>
<path d="M1238.5 1748.5V1761.5M1232.1 1751.6L1244.9 1758.4M1232.1 1758.4L1244.9 1751.6" stroke="#000" stroke-width="3.0" stroke-linecap="round" fill="none"/>
<rect x="657.3" y="2464.0" width="42.0" height="88.1" fill="#7a787b" stroke="#000" stroke-width="5"/>
<rect x="660.3" y="2467.0" width="36.0" height="84.1" fill="none" stroke="#fff" stroke-opacity="0.6" stroke-width="1"/>
<rect x="730.1" y="2442.8" width="42.4" height="109.3" fill="#d1d0d3" stroke="#000" stroke-width="5"/>
<rect x="733.1" y="2445.8" width="36.4" height="105.3" fill="none" stroke="#fff" stroke-opacity="0.6" stroke-width="1"/>
<rect x="803.2" y="2356.9" width="43.4" height="195.2" fill="#bebdbf" stroke="#000" stroke-width="5"/>
<rect x="806.2" y="2359.9" width="37.4" height="191.2" fill="none" stroke="#fff" stroke-opacity="0.6" stroke-width="1"/>
<rect x="877.4" y="2376.4" width="42.0" height="175.7" fill="#e7e7e7" stroke="#000" stroke-width="5"/>
<rect x="880.4" y="2379.4" width="36.0" height="171.7" fill="none" stroke="#fff" stroke-opacity="0.6" stroke-width="1"/>
<path d="M678.3 2439.9V2482.1M665.8 2439.9H690.8M665.8 2482.1H690.8" stroke="#222" stroke-width="2.2" fill="none"/>
<path d="M751.3 2424.4V2452.2M738.8 2424.4H763.8M738.8 2452.2H763.8" stroke="#222" stroke-width="2.2" fill="none"/>
<path d="M824.9 2336.8V2369.8M812.4 2336.8H837.4M812.4 2369.8H837.4" stroke="#222" stroke-width="2.2" fill="none"/>
<path d="M898.4 2361.6V2385.3M885.9 2361.6H910.9M885.9 2385.3H910.9" stroke="#222" stroke-width="2.2" fill="none"/>
<circle cx="678.5" cy="2389.8" r="7.2" fill="#000"/>
<circle cx="660.6" cy="2434.3" r="7.2" fill="#000"/>
<circle cx="696.7" cy="2438.8" r="7.2" fill="#000"/>
<circle cx="660.6" cy="2477.0" r="7.2" fill="#000"/>
<circle cx="696.7" cy="2485.6" r="7.2" fill="#000"/>
<circle cx="678.5" cy="2540.8" r="7.2" fill="#000"/>
<rect x="726.8" y="2385.5" width="14.0" height="14.0" fill="#000"/>
<rect x="744.3" y="2390.6" width="14.0" height="14.0" fill="#000"/>
<rect x="726.8" y="2446.3" width="14.0" height="14.0" fill="#000"/>
<rect x="744.3" y="2447.3" width="14.0" height="14.0" fill="#000"/>
<rect x="762.8" y="2455.1" width="14.0" height="14.0" fill="#000"/>
<rect x="726.8" y="2465.4" width="14.0" height="14.0" fill="#000"/>
<path d="M824.8 2281.3L832.6 2294.9L817.0 2294.9Z" fill="#000"/>
<path d="M824.8 2316.3L832.6 2329.9L817.0 2329.9Z" fill="#000"/>
<path d="M824.8 2369.4L832.6 2383.0L817.0 2383.0Z" fill="#000"/>
<path d="M843.0 2355.4L850.8 2369.0L835.2 2369.0Z" fill="#000"/>
<path d="M843.0 2368.8L850.8 2382.4L835.2 2382.4Z" fill="#000"/>
<path d="M806.9 2382.2L814.7 2395.8L799.1 2395.8Z" fill="#000"/>
<path d="M897.6 2318.7L905.9 2327.0L897.6 2335.3L889.3 2327.0Z" fill="#000"/>
<path d="M897.6 2345.0L905.9 2353.3L897.6 2361.6L889.3 2353.3Z" fill="#000"/>
<path d="M916.1 2366.7L924.4 2375.0L916.1 2383.3L907.8 2375.0Z" fill="#000"/>
<path d="M879.0 2378.0L887.3 2386.3L879.0 2394.6L870.7 2386.3Z" fill="#000"/>
<path d="M916.1 2381.1L924.4 2389.4L916.1 2397.7L907.8 2389.4Z" fill="#000"/>
<path d="M897.6 2396.5L905.9 2404.8L897.6 2413.1L889.3 2404.8Z" fill="#000"/>
<path d="M629.8 2235.0V2552.1" stroke="#000" stroke-width="3.3" fill="none"/>
<path d="M616.4 2552.1H947.5" stroke="#000" stroke-width="2.2" fill="none"/>
<path d="M616.4 2446.7H629.8" stroke="#000" stroke-width="2.4" fill="none"/>
<path d="M616.4 2341.4H629.8" stroke="#000" stroke-width="2.4" fill="none"/>
<path d="M616.4 2236.0H629.8" stroke="#000" stroke-width="2.4" fill="none"/>
<path d="M677.5 2552.1V2566.1" stroke="#000" stroke-width="2.8" fill="none"/>
<path d="M750.0 2552.1V2566.1" stroke="#000" stroke-width="2.8" fill="none"/>
<path d="M824.0 2552.1V2566.1" stroke="#000" stroke-width="2.8" fill="none"/>
<path d="M897.5 2552.1V2566.1" stroke="#000" stroke-width="2.8" fill="none"/>
<text x="598.1" y="2560.7" font-size="24.02" font-weight="bold" textLength="14.9" lengthAdjust="spacingAndGlyphs" fill="#000" >0</text>
<text x="585.6" y="2455.3" font-size="24.02" font-weight="bold" textLength="27.4" lengthAdjust="spacingAndGlyphs" fill="#000" >20</text>
<text x="585.6" y="2350.0" font-size="24.02" font-weight="bold" textLength="27.4" lengthAdjust="spacingAndGlyphs" fill="#000" >40</text>
<text x="585.6" y="2244.6" font-size="24.02" font-weight="bold" textLength="27.4" lengthAdjust="spacingAndGlyphs" fill="#000" >60</text>
<text x="668.5" y="2589.9" font-size="22.49" font-weight="bold" textLength="33.7" lengthAdjust="spacingAndGlyphs" fill="#000" >CN</text>
<text x="733.4" y="2589.9" font-size="22.49" font-weight="bold" textLength="34.7" lengthAdjust="spacingAndGlyphs" fill="#000" >CP</text>
<text x="807.2" y="2589.9" font-size="22.49" font-weight="bold" textLength="34.5" lengthAdjust="spacingAndGlyphs" fill="#000" >HN</text>
<text x="880.1" y="2589.9" font-size="22.49" font-weight="bold" textLength="34.3" lengthAdjust="spacingAndGlyphs" fill="#000" >HP</text>
<text x="765.4" y="2194.8" font-size="27.93" font-weight="bold" textLength="47.3" lengthAdjust="spacingAndGlyphs" fill="#000" >Fat</text>
<text transform="translate(566.3,2415.3) rotate(-90)" x="0" y="0" font-size="26.54" font-weight="normal" textLength="44.0" lengthAdjust="spacingAndGlyphs" stroke="#000" stroke-width="0.5">(%)</text>
<path d="M812.1 2262.7H837.8" stroke="#000" stroke-width="5" fill="none"/>
<path d="M824.0 2236.0V2249.0M817.6 2239.1L830.4 2245.9M817.6 2245.9L830.4 2239.1" stroke="#000" stroke-width="3.0" stroke-linecap="round" fill="none"/>
<path d="M882.7 2302.4H907.5" stroke="#000" stroke-width="5" fill="none"/>
<path d="M895.5 2275.5V2288.5M889.1 2278.6L901.9 2285.4M889.1 2285.4L901.9 2278.6" stroke="#000" stroke-width="3.0" stroke-linecap="round" fill="none"/>
<rect x="1082.4" y="2355.4" width="41.8" height="196.7" fill="#7a787b" stroke="#000" stroke-width="5"/>
<rect x="1085.4" y="2358.4" width="35.8" height="192.7" fill="none" stroke="#fff" stroke-opacity="0.6" stroke-width="1"/>
<rect x="1154.9" y="2370.3" width="42.0" height="181.8" fill="#d1d0d3" stroke="#000" stroke-width="5"/>
<rect x="1157.9" y="2373.3" width="36.0" height="177.8" fill="none" stroke="#fff" stroke-opacity="0.6" stroke-width="1"/>
<rect x="1228.1" y="2462.6" width="43.4" height="89.5" fill="#bebdbf" stroke="#000" stroke-width="5"/>
<rect x="1231.1" y="2465.6" width="37.4" height="85.5" fill="none" stroke="#fff" stroke-opacity="0.6" stroke-width="1"/>
<rect x="1302.9" y="2438.3" width="40.7" height="113.8" fill="#e7e7e7" stroke="#000" stroke-width="5"/>
<rect x="1305.9" y="2441.3" width="34.7" height="109.8" fill="none" stroke="#fff" stroke-opacity="0.6" stroke-width="1"/>
<path d="M1103.3 2332.3V2370.8M1090.8 2332.3H1115.8M1090.8 2370.8H1115.8" stroke="#222" stroke-width="2.2" fill="none"/>
<path d="M1175.9 2352.3V2382.2M1163.4 2352.3H1188.4M1163.4 2382.2H1188.4" stroke="#222" stroke-width="2.2" fill="none"/>
<path d="M1249.8 2439.9V2475.9M1237.3 2439.9H1262.3M1237.3 2475.9H1262.3" stroke="#222" stroke-width="2.2" fill="none"/>
<path d="M1323.2 2419.7V2448.1M1310.8 2419.7H1335.8M1310.8 2448.1H1335.8" stroke="#222" stroke-width="2.2" fill="none"/>
<circle cx="1103.4" cy="2296.0" r="7.2" fill="#000"/>
<circle cx="1085.5" cy="2318.3" r="7.2" fill="#000"/>
<circle cx="1121.5" cy="2322.4" r="7.2" fill="#000"/>
<circle cx="1085.5" cy="2372.9" r="7.2" fill="#000"/>
<circle cx="1121.5" cy="2380.1" r="7.2" fill="#000"/>
<circle cx="1103.4" cy="2421.7" r="7.2" fill="#000"/>
<rect x="1187.7" y="2326.8" width="14.0" height="14.0" fill="#000"/>
<rect x="1169.5" y="2333.6" width="14.0" height="14.0" fill="#000"/>
<rect x="1151.2" y="2341.2" width="14.0" height="14.0" fill="#000"/>
<rect x="1187.7" y="2343.2" width="14.0" height="14.0" fill="#000"/>
<rect x="1178.8" y="2404.0" width="14.0" height="14.0" fill="#000"/>
<rect x="1160.3" y="2410.2" width="14.0" height="14.0" fill="#000"/>
<path d="M1249.7 2410.0L1257.5 2423.6L1241.9 2423.6Z" fill="#000"/>
<path d="M1249.7 2424.5L1257.5 2438.1L1241.9 2438.1Z" fill="#000"/>
<path d="M1231.8 2431.7L1239.6 2445.3L1224.0 2445.3Z" fill="#000"/>
<path d="M1267.8 2432.7L1275.6 2446.3L1260.0 2446.3Z" fill="#000"/>
<path d="M1249.7 2486.3L1257.5 2499.9L1241.9 2499.9Z" fill="#000"/>
<path d="M1249.7 2522.3L1257.5 2535.9L1241.9 2535.9Z" fill="#000"/>
<path d="M1322.8 2386.7L1331.1 2395.0L1322.8 2403.3L1314.5 2395.0Z" fill="#000"/>
<path d="M1304.9 2401.7L1313.2 2410.0L1304.9 2418.3L1296.6 2410.0Z" fill="#000"/>
<path d="M1341.0 2405.8L1349.3 2414.1L1341.0 2422.4L1332.7 2414.1Z" fill="#000"/>
<path d="M1322.8 2424.4L1331.1 2432.7L1322.8 2441.0L1314.5 2432.7Z" fill="#000"/>
<path d="M1322.8 2453.8L1331.1 2462.1L1322.8 2470.4L1314.5 2462.1Z" fill="#000"/>
<path d="M1322.8 2480.6L1331.1 2488.9L1322.8 2497.2L1314.5 2488.9Z" fill="#000"/>
<path d="M1054.4 2235.0V2552.1" stroke="#000" stroke-width="3.3" fill="none"/>
<path d="M1041.4 2552.1H1372.0" stroke="#000" stroke-width="2.2" fill="none"/>
<path d="M1041.4 2488.9H1054.4" stroke="#000" stroke-width="2.4" fill="none"/>
<path d="M1041.4 2425.7H1054.4" stroke="#000" stroke-width="2.4" fill="none"/>
<path d="M1041.4 2362.4H1054.4" stroke="#000" stroke-width="2.4" fill="none"/>
<path d="M1041.4 2299.2H1054.4" stroke="#000" stroke-width="2.4" fill="none"/>
<path d="M1041.4 2236.0H1054.4" stroke="#000" stroke-width="2.4" fill="none"/>
<path d="M1103.0 2552.1V2566.1" stroke="#000" stroke-width="2.8" fill="none"/>
<path d="M1176.0 2552.1V2566.1" stroke="#000" stroke-width="2.8" fill="none"/>
<path d="M1249.5 2552.1V2566.1" stroke="#000" stroke-width="2.8" fill="none"/>
<path d="M1322.0 2552.1V2566.1" stroke="#000" stroke-width="2.8" fill="none"/>
<text x="1010.9" y="2560.7" font-size="24.02" font-weight="bold" textLength="27.4" lengthAdjust="spacingAndGlyphs" fill="#000" >40</text>
<text x="1010.9" y="2497.5" font-size="24.02" font-weight="bold" textLength="27.4" lengthAdjust="spacingAndGlyphs" fill="#000" >50</text>
<text x="1010.9" y="2434.3" font-size="24.02" font-weight="bold" textLength="27.4" lengthAdjust="spacingAndGlyphs" fill="#000" >60</text>
<text x="1010.9" y="2371.0" font-size="24.02" font-weight="bold" textLength="27.4" lengthAdjust="spacingAndGlyphs" fill="#000" >70</text>
<text x="1010.9" y="2307.8" font-size="24.02" font-weight="bold" textLength="27.4" lengthAdjust="spacingAndGlyphs" fill="#000" >80</text>
<text x="1010.9" y="2244.6" font-size="24.02" font-weight="bold" textLength="27.4" lengthAdjust="spacingAndGlyphs" fill="#000" >90</text>
<text x="1092.9" y="2589.9" font-size="22.49" font-weight="bold" textLength="33.9" lengthAdjust="spacingAndGlyphs" fill="#000" >CN</text>
<text x="1158.2" y="2589.9" font-size="22.49" font-weight="bold" textLength="35.2" lengthAdjust="spacingAndGlyphs" fill="#000" >CP</text>
<text x="1231.4" y="2589.9" font-size="22.49" font-weight="bold" textLength="35.2" lengthAdjust="spacingAndGlyphs" fill="#000" >HN</text>
<text x="1305.2" y="2589.9" font-size="22.49" font-weight="bold" textLength="33.9" lengthAdjust="spacingAndGlyphs" fill="#000" >HP</text>
<text x="1175.9" y="2194.8" font-size="27.93" font-weight="bold" textLength="72.9" lengthAdjust="spacingAndGlyphs" fill="#000" >Lean</text>
<text transform="translate(991.3,2415.3) rotate(-90)" x="0" y="0" font-size="26.54" font-weight="normal" textLength="44.0" lengthAdjust="spacingAndGlyphs" stroke="#000" stroke-width="0.5">(%)</text>
<path d="M1240.0 2381.8H1259.2" stroke="#000" stroke-width="5" fill="none"/>
<path d="M1249.3 2353.5V2366.5M1242.9 2356.6L1255.7 2363.4M1242.9 2363.4L1255.7 2356.6" stroke="#000" stroke-width="3.0" stroke-linecap="round" fill="none"/>
<path d="M1311.1 2367.1H1327.2" stroke="#000" stroke-width="5" fill="none"/>
<path d="M1318.7 2339.1V2352.1M1312.3 2342.2L1325.1 2349.0M1312.3 2349.0L1325.1 2342.2" stroke="#000" stroke-width="3.0" stroke-linecap="round" fill="none"/>
</svg>
</body></html>
